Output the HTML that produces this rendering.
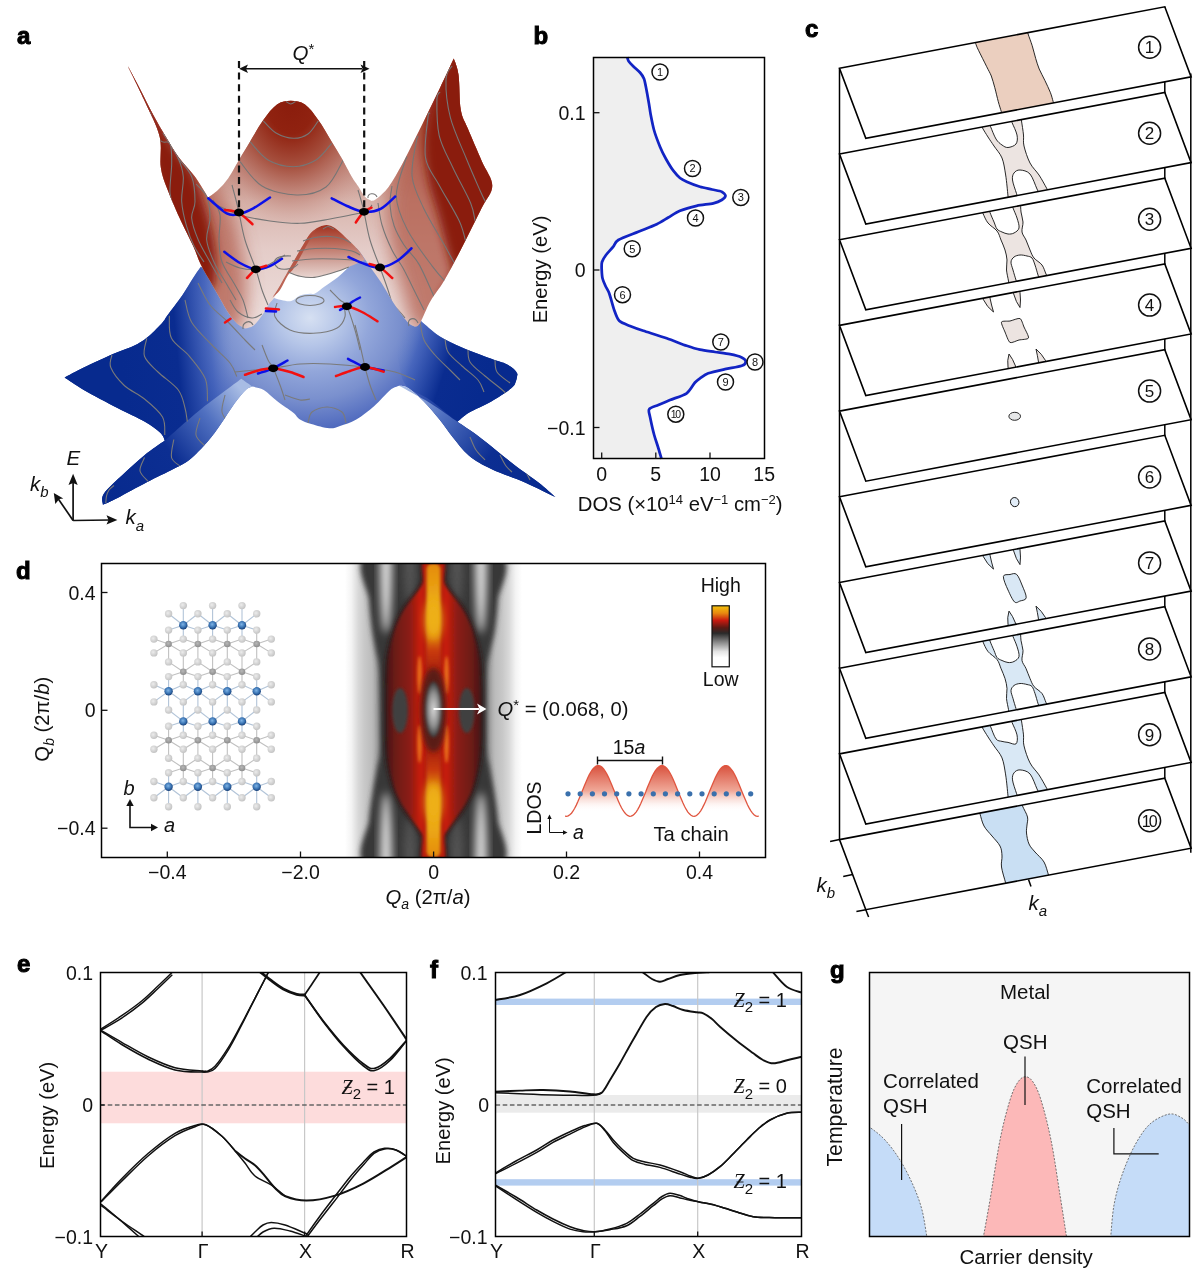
<!DOCTYPE html><html><head><meta charset="utf-8"><style>
html,body{margin:0;padding:0;background:#fff;width:1200px;height:1287px;overflow:hidden}
svg{display:block;will-change:transform}
text{font-family:"Liberation Sans",sans-serif}
</style></head><body>
<svg width="1200" height="1287" viewBox="0 0 1200 1287">
<defs>
<radialGradient id="bRad" gradientUnits="userSpaceOnUse" cx="310" cy="318" r="200" gradientTransform="translate(310 318) scale(1 0.9) translate(-310 -318)">
<stop offset="0" stop-color="#d6e0f2"/><stop offset="0.15" stop-color="#b6c6e8"/><stop offset="0.3" stop-color="#92a6da"/><stop offset="0.45" stop-color="#7a90ce"/><stop offset="0.6" stop-color="#546ec0"/><stop offset="0.75" stop-color="#2a4aa8"/><stop offset="0.9" stop-color="#0e2e92"/><stop offset="1" stop-color="#06268a"/>
</radialGradient>
<linearGradient id="bWingL" gradientUnits="userSpaceOnUse" x1="120" y1="345" x2="232" y2="335"><stop offset="0" stop-color="#072a8e"/><stop offset="0.5" stop-color="#0a2c90"/><stop offset="0.8" stop-color="#3a5cb8" stop-opacity="0.6"/><stop offset="1" stop-color="#6a88cc" stop-opacity="0"/></linearGradient>
<linearGradient id="bWingR" gradientUnits="userSpaceOnUse" x1="490" y1="370" x2="400" y2="340"><stop offset="0" stop-color="#072a8e"/><stop offset="0.45" stop-color="#0a2c90"/><stop offset="0.8" stop-color="#3a5cb8" stop-opacity="0.6"/><stop offset="1" stop-color="#6a88cc" stop-opacity="0"/></linearGradient>
<linearGradient id="bFL" gradientUnits="userSpaceOnUse" x1="110" y1="500" x2="245" y2="395"><stop offset="0" stop-color="#072a8e"/><stop offset="0.45" stop-color="#0c2e92"/><stop offset="0.75" stop-color="#5070c0"/><stop offset="1" stop-color="#a8bce4"/></linearGradient>
<linearGradient id="bFR" gradientUnits="userSpaceOnUse" x1="550" y1="495" x2="405" y2="390"><stop offset="0" stop-color="#072a8e"/><stop offset="0.4" stop-color="#0c2e92"/><stop offset="0.75" stop-color="#5070c0"/><stop offset="1" stop-color="#a8bce4"/></linearGradient>
</defs>
<defs><clipPath id="blueclip"><path d="M64.6,377.6 C67.8,375.9 75.7,371.4 83.8,367.5 C91.9,363.6 104.4,357.8 113.0,354.0 C121.6,350.2 129.5,348.0 135.5,345.0 C141.5,342.0 144.5,339.8 149.0,336.0 C153.5,332.2 159.4,325.9 162.5,322.5 C165.6,319.1 164.0,320.2 167.3,315.6 C170.6,311.0 178.2,301.3 182.5,295.0 C186.8,288.7 190.2,282.4 193.3,277.7 C196.4,273.0 199.6,268.6 200.9,266.8 L200.9,266.8 C204.9,269.8 216.8,279.5 225.0,285.0 C233.2,290.5 243.3,297.5 250.0,300.0 C256.7,302.5 261.2,300.4 265.0,300.0 C268.8,299.6 271.2,297.9 272.5,297.5 L272.5,297.5 C274.0,297.9 278.2,299.4 281.3,300.0 C284.4,300.6 288.2,301.8 291.3,301.0 C294.4,300.2 296.9,296.7 300.0,295.5 C303.1,294.3 307.5,294.1 310.0,293.8 C312.5,293.5 312.5,294.8 315.0,293.5 C317.5,292.2 321.2,289.0 325.0,286.3 C328.8,283.6 333.5,280.7 337.5,277.5 C341.5,274.3 346.9,268.7 348.8,266.9 L348.8,266.9 C350.0,263.8 350.8,250.8 356.0,248.0 C361.2,245.2 371.0,243.0 380.0,250.0 C389.0,257.0 403.1,278.1 410.0,290.0 C416.9,301.9 419.6,316.3 421.5,321.6 L421.5,321.6 C424.5,324.1 432.8,332.0 439.5,336.3 C446.2,340.6 453.4,343.8 462.0,347.5 C470.6,351.2 484.1,356.1 491.3,358.8 C498.5,361.5 501.2,361.8 505.0,363.5 C508.8,365.2 511.7,367.1 513.8,368.9 C515.9,370.6 516.9,373.1 517.5,374.0 L517.5,374.0 C517.2,375.2 517.0,378.7 516.0,381.0 C515.0,383.3 515.6,384.6 511.5,388.0 C507.4,391.4 498.4,397.4 491.3,401.5 C484.2,405.6 474.4,409.4 468.8,412.8 C463.2,416.2 459.4,420.3 457.5,421.8 L457.5,421.8 C461.2,424.4 470.6,430.4 480.0,437.5 C489.4,444.6 504.0,457.0 513.8,464.5 C523.5,472.0 531.6,477.1 538.5,482.5 C545.4,487.9 552.6,494.7 555.4,497.1 L555.4,497.1 C550.3,494.7 535.7,487.2 525.0,482.5 C514.3,477.8 500.7,473.5 491.3,469.0 C481.9,464.5 475.2,460.8 468.8,455.5 C462.4,450.2 457.9,443.5 453.0,437.5 C448.1,431.5 444.4,425.5 439.5,419.5 C434.6,413.5 429.1,406.8 423.8,401.5 C418.6,396.2 412.1,390.6 408.0,388.0 C403.9,385.4 400.5,386.2 399.0,385.8 L399.0,385.8 C397.5,386.6 394.1,386.9 390.0,390.3 C385.9,393.7 379.9,401.1 374.3,406.0 C368.7,410.9 362.0,416.2 356.3,419.5 C350.6,422.8 344.5,424.5 340.0,426.0 C335.5,427.5 334.1,428.6 329.3,428.3 C324.5,428.0 316.2,425.5 311.3,424.0 C306.4,422.5 303.1,421.4 300.0,419.5 C296.9,417.6 296.8,415.5 293.0,412.5 C289.2,409.5 282.2,405.1 277.3,401.3 C272.4,397.6 267.9,392.4 263.8,390.0 C259.7,387.6 254.4,387.2 252.5,386.6 L252.5,386.6 C251.4,387.2 248.8,387.2 245.8,390.0 C242.8,392.8 238.6,397.9 234.5,403.5 C230.4,409.1 225.5,417.4 221.0,423.8 C216.5,430.2 212.8,435.8 207.5,441.8 C202.2,447.8 195.1,455.3 189.5,459.8 C183.9,464.3 180.9,465.1 173.8,468.8 C166.7,472.6 156.2,477.4 146.8,482.3 C137.4,487.2 124.8,494.2 117.5,498.0 C110.2,501.8 105.3,503.7 102.9,504.8 L102.9,504.8 C103.1,502.9 100.4,498.8 104.0,493.5 C107.6,488.2 117.5,479.7 124.3,473.3 C131.1,466.9 137.8,460.8 144.5,455.3 C151.2,449.9 161.4,443.1 164.8,440.6 L164.8,440.6 C164.1,439.3 163.7,436.0 160.3,432.8 C156.9,429.6 151.6,425.6 144.5,421.5 C137.4,417.4 127.6,413.2 117.5,408.0 C107.4,402.8 92.6,395.1 83.8,390.0 C75.0,384.9 67.8,379.7 64.6,377.6Z"/></clipPath></defs>
<path d="M64.6,377.6 C67.8,375.9 75.7,371.4 83.8,367.5 C91.9,363.6 104.4,357.8 113.0,354.0 C121.6,350.2 129.5,348.0 135.5,345.0 C141.5,342.0 144.5,339.8 149.0,336.0 C153.5,332.2 159.4,325.9 162.5,322.5 C165.6,319.1 164.0,320.2 167.3,315.6 C170.6,311.0 178.2,301.3 182.5,295.0 C186.8,288.7 190.2,282.4 193.3,277.7 C196.4,273.0 199.6,268.6 200.9,266.8 L200.9,266.8 C204.9,269.8 216.8,279.5 225.0,285.0 C233.2,290.5 243.3,297.5 250.0,300.0 C256.7,302.5 261.2,300.4 265.0,300.0 C268.8,299.6 271.2,297.9 272.5,297.5 L272.5,297.5 C274.0,297.9 278.2,299.4 281.3,300.0 C284.4,300.6 288.2,301.8 291.3,301.0 C294.4,300.2 296.9,296.7 300.0,295.5 C303.1,294.3 307.5,294.1 310.0,293.8 C312.5,293.5 312.5,294.8 315.0,293.5 C317.5,292.2 321.2,289.0 325.0,286.3 C328.8,283.6 333.5,280.7 337.5,277.5 C341.5,274.3 346.9,268.7 348.8,266.9 L348.8,266.9 C350.0,263.8 350.8,250.8 356.0,248.0 C361.2,245.2 371.0,243.0 380.0,250.0 C389.0,257.0 403.1,278.1 410.0,290.0 C416.9,301.9 419.6,316.3 421.5,321.6 L421.5,321.6 C424.5,324.1 432.8,332.0 439.5,336.3 C446.2,340.6 453.4,343.8 462.0,347.5 C470.6,351.2 484.1,356.1 491.3,358.8 C498.5,361.5 501.2,361.8 505.0,363.5 C508.8,365.2 511.7,367.1 513.8,368.9 C515.9,370.6 516.9,373.1 517.5,374.0 L517.5,374.0 C517.2,375.2 517.0,378.7 516.0,381.0 C515.0,383.3 515.6,384.6 511.5,388.0 C507.4,391.4 498.4,397.4 491.3,401.5 C484.2,405.6 474.4,409.4 468.8,412.8 C463.2,416.2 459.4,420.3 457.5,421.8 L457.5,421.8 C461.2,424.4 470.6,430.4 480.0,437.5 C489.4,444.6 504.0,457.0 513.8,464.5 C523.5,472.0 531.6,477.1 538.5,482.5 C545.4,487.9 552.6,494.7 555.4,497.1 L555.4,497.1 C550.3,494.7 535.7,487.2 525.0,482.5 C514.3,477.8 500.7,473.5 491.3,469.0 C481.9,464.5 475.2,460.8 468.8,455.5 C462.4,450.2 457.9,443.5 453.0,437.5 C448.1,431.5 444.4,425.5 439.5,419.5 C434.6,413.5 429.1,406.8 423.8,401.5 C418.6,396.2 412.1,390.6 408.0,388.0 C403.9,385.4 400.5,386.2 399.0,385.8 L399.0,385.8 C397.5,386.6 394.1,386.9 390.0,390.3 C385.9,393.7 379.9,401.1 374.3,406.0 C368.7,410.9 362.0,416.2 356.3,419.5 C350.6,422.8 344.5,424.5 340.0,426.0 C335.5,427.5 334.1,428.6 329.3,428.3 C324.5,428.0 316.2,425.5 311.3,424.0 C306.4,422.5 303.1,421.4 300.0,419.5 C296.9,417.6 296.8,415.5 293.0,412.5 C289.2,409.5 282.2,405.1 277.3,401.3 C272.4,397.6 267.9,392.4 263.8,390.0 C259.7,387.6 254.4,387.2 252.5,386.6 L252.5,386.6 C251.4,387.2 248.8,387.2 245.8,390.0 C242.8,392.8 238.6,397.9 234.5,403.5 C230.4,409.1 225.5,417.4 221.0,423.8 C216.5,430.2 212.8,435.8 207.5,441.8 C202.2,447.8 195.1,455.3 189.5,459.8 C183.9,464.3 180.9,465.1 173.8,468.8 C166.7,472.6 156.2,477.4 146.8,482.3 C137.4,487.2 124.8,494.2 117.5,498.0 C110.2,501.8 105.3,503.7 102.9,504.8 L102.9,504.8 C103.1,502.9 100.4,498.8 104.0,493.5 C107.6,488.2 117.5,479.7 124.3,473.3 C131.1,466.9 137.8,460.8 144.5,455.3 C151.2,449.9 161.4,443.1 164.8,440.6 L164.8,440.6 C164.1,439.3 163.7,436.0 160.3,432.8 C156.9,429.6 151.6,425.6 144.5,421.5 C137.4,417.4 127.6,413.2 117.5,408.0 C107.4,402.8 92.6,395.1 83.8,390.0 C75.0,384.9 67.8,379.7 64.6,377.6Z" fill="url(#bRad)"/>
<path d="M64.6,377.6 C67.8,375.9 75.7,371.4 83.8,367.5 C91.9,363.6 104.4,357.8 113.0,354.0 C121.6,350.2 129.5,348.0 135.5,345.0 C141.5,342.0 144.5,339.8 149.0,336.0 C153.5,332.2 159.4,325.9 162.5,322.5 C165.6,319.1 164.0,320.2 167.3,315.6 C170.6,311.0 178.2,301.3 182.5,295.0 C186.8,288.7 190.2,282.4 193.3,277.7 C196.4,273.0 199.6,268.6 200.9,266.8 L200.9,266.8 C205.8,272.3 222.5,287.0 230.0,300.0 C237.5,313.0 244.1,331.9 246.0,345.0 C247.9,358.1 242.1,373.2 241.3,378.8 L241.3,378.8 C234.4,384.0 212.8,399.7 200.0,410.0 C187.2,420.3 170.7,435.5 164.8,440.6 L164.8,440.6 C164.1,439.3 163.7,436.0 160.3,432.8 C156.9,429.6 151.6,425.6 144.5,421.5 C137.4,417.4 127.6,413.2 117.5,408.0 C107.4,402.8 92.6,395.1 83.8,390.0 C75.0,384.9 67.8,379.7 64.6,377.6Z" fill="url(#bWingL)"/>
<path d="M348.8,266.9 C354.0,267.4 367.9,260.9 380.0,270.0 C392.1,279.1 414.6,313.0 421.5,321.6 L421.5,321.6 C424.5,324.1 432.8,332.0 439.5,336.3 C446.2,340.6 453.4,343.8 462.0,347.5 C470.6,351.2 484.1,356.1 491.3,358.8 C498.5,361.5 501.2,361.8 505.0,363.5 C508.8,365.2 511.7,367.1 513.8,368.9 C515.9,370.6 516.9,373.1 517.5,374.0 L517.5,374.0 C517.2,375.2 517.0,378.7 516.0,381.0 C515.0,383.3 515.6,384.6 511.5,388.0 C507.4,391.4 498.4,397.4 491.3,401.5 C484.2,405.6 474.4,409.4 468.8,412.8 C463.2,416.2 459.4,420.3 457.5,421.8 L457.5,421.8 C452.9,418.2 438.8,406.3 430.0,400.0 C421.2,393.7 410.8,392.3 405.0,384.0 C399.2,375.7 400.8,364.0 395.0,350.0 C389.2,336.0 374.2,308.3 370.0,300.0Z" fill="url(#bWingR)"/>
<path d="M241.3,378.8 C243.2,380.1 250.6,385.3 252.5,386.6 L252.5,386.6 C251.4,387.2 248.8,387.2 245.8,390.0 C242.8,392.8 238.6,397.9 234.5,403.5 C230.4,409.1 225.5,417.4 221.0,423.8 C216.5,430.2 212.8,435.8 207.5,441.8 C202.2,447.8 195.1,455.3 189.5,459.8 C183.9,464.3 180.9,465.1 173.8,468.8 C166.7,472.6 156.2,477.4 146.8,482.3 C137.4,487.2 124.8,494.2 117.5,498.0 C110.2,501.8 105.3,503.7 102.9,504.8 L102.9,504.8 C103.1,502.9 100.4,498.8 104.0,493.5 C107.6,488.2 117.5,479.7 124.3,473.3 C131.1,466.9 137.8,460.8 144.5,455.3 C151.2,449.9 161.4,443.1 164.8,440.6 L164.8,440.6 C170.7,435.5 187.2,420.3 200.0,410.0 C212.8,399.7 234.4,384.0 241.3,378.8Z" fill="url(#bFL)"/>
<path d="M399.0,385.8 C404.2,388.7 420.2,397.0 430.0,403.0 C439.8,409.0 452.9,418.7 457.5,421.8 L457.5,421.8 C461.2,424.4 470.6,430.4 480.0,437.5 C489.4,444.6 504.0,457.0 513.8,464.5 C523.5,472.0 531.6,477.1 538.5,482.5 C545.4,487.9 552.6,494.7 555.4,497.1 L555.4,497.1 C550.3,494.7 535.7,487.2 525.0,482.5 C514.3,477.8 500.7,473.5 491.3,469.0 C481.9,464.5 475.2,460.8 468.8,455.5 C462.4,450.2 457.9,443.5 453.0,437.5 C448.1,431.5 444.4,425.5 439.5,419.5 C434.6,413.5 429.1,406.8 423.8,401.5 C418.6,396.2 412.1,390.6 408.0,388.0 C403.9,385.4 400.5,386.2 399.0,385.8Z" fill="url(#bFR)"/>
<ellipse cx="310" cy="300.5" rx="14" ry="5" stroke="#7a7a7a" stroke-width="1.1" fill="none"/>
<g clip-path="url(#blueclip)"><path d="M277.0,303.0 C276.7,305.3 272.8,312.2 275.0,316.7 C277.2,321.2 283.6,327.2 290.0,330.0 C296.4,332.8 305.5,333.6 313.3,333.3 C321.1,333.0 331.4,331.1 336.7,328.3 C342.0,325.5 343.9,320.9 345.0,316.7 C346.1,312.5 343.6,305.5 343.3,303.3" stroke="#7a7a7a" stroke-width="1.1" fill="none"/><path d="M308.0,423.0 C308.7,421.2 308.8,414.7 312.0,412.0 C315.2,409.3 322.0,407.0 327.0,407.0 C332.0,407.0 338.8,409.3 342.0,412.0 C345.2,414.7 345.3,421.2 346.0,423.0" stroke="#7a7a7a" stroke-width="1.1" fill="none"/><path d="M111.9,355.1 C111.7,357.2 108.7,362.4 110.8,367.5 C112.9,372.6 118.7,380.2 124.3,385.5 C129.9,390.8 138.1,393.8 144.5,399.0 C150.9,404.2 159.1,411.0 162.5,417.0 C165.9,423.0 164.4,432.0 164.8,435.0" stroke="#7a7a7a" stroke-width="1.1" fill="none"/><path d="M146.8,338.3 C146.4,341.3 142.6,350.7 144.5,356.3 C146.4,361.9 152.4,366.4 158.0,372.0 C163.6,377.6 173.8,384.0 178.3,390.0 C182.8,396.0 183.5,402.8 185.0,408.0 C186.5,413.2 186.9,419.2 187.3,421.5" stroke="#7a7a7a" stroke-width="1.1" fill="none"/><path d="M169.3,315.8 C169.7,319.6 168.1,331.6 171.5,338.3 C174.9,345.1 183.9,349.6 189.5,356.3 C195.1,363.1 202.3,371.3 205.3,378.8 C208.3,386.3 207.1,397.6 207.5,401.3" stroke="#7a7a7a" stroke-width="1.1" fill="none"/><path d="M185.0,300.0 C186.1,303.8 187.3,315.0 191.8,322.5 C196.3,330.0 205.6,338.2 212.0,345.0 C218.4,351.8 225.9,357.8 230.0,363.0 C234.1,368.2 235.7,374.2 236.8,376.5" stroke="#7a7a7a" stroke-width="1.1" fill="none"/><path d="M198.0,283.0 C200.0,286.7 205.0,298.5 210.0,305.0 C215.0,311.5 222.2,316.2 228.0,322.0 C233.8,327.8 240.5,335.3 245.0,340.0 C249.5,344.7 253.3,348.3 255.0,350.0" stroke="#7a7a7a" stroke-width="1.1" fill="none"/><path d="M105.8,503.0 C105.9,501.8 106.0,498.2 106.5,496.0 C107.0,493.8 107.8,491.8 109.0,490.0 C110.2,488.2 113.2,486.2 114.0,485.5" stroke="#7a7a7a" stroke-width="1.1" fill="none"/><path d="M144.5,457.5 C143.8,459.8 139.2,466.9 140.0,471.0 C140.8,475.1 147.5,480.4 149.0,482.3" stroke="#7a7a7a" stroke-width="1.1" fill="none"/><path d="M173.8,439.5 C173.4,442.5 170.5,453.1 171.5,457.5 C172.5,461.9 178.6,464.6 180.0,466.0" stroke="#7a7a7a" stroke-width="1.1" fill="none"/><path d="M200.0,418.0 C199.3,420.8 195.2,430.3 196.0,435.0 C196.8,439.7 203.5,444.2 205.0,446.0" stroke="#7a7a7a" stroke-width="1.1" fill="none"/><path d="M225.0,395.0 C224.5,397.8 221.2,407.0 222.0,412.0 C222.8,417.0 228.7,422.8 230.0,425.0" stroke="#7a7a7a" stroke-width="1.1" fill="none"/><path d="M420.0,322.0 C420.7,325.0 421.5,334.5 424.0,340.0 C426.5,345.5 430.7,350.0 435.0,355.0 C439.3,360.0 445.8,365.8 450.0,370.0 C454.2,374.2 458.3,378.3 460.0,380.0" stroke="#7a7a7a" stroke-width="1.1" fill="none"/><path d="M445.0,338.0 C445.5,340.3 445.2,347.3 448.0,352.0 C450.8,356.7 457.0,361.3 462.0,366.0 C467.0,370.7 474.3,375.7 478.0,380.0 C481.7,384.3 483.0,390.0 484.0,392.0" stroke="#7a7a7a" stroke-width="1.1" fill="none"/><path d="M468.0,348.0 C468.3,350.3 467.2,357.3 470.0,362.0 C472.8,366.7 480.0,371.7 485.0,376.0 C490.0,380.3 496.2,384.8 500.0,388.0 C503.8,391.2 506.7,393.8 508.0,395.0" stroke="#7a7a7a" stroke-width="1.1" fill="none"/><path d="M495.0,359.0 C495.3,361.2 494.5,368.0 497.0,372.0 C499.5,376.0 507.8,381.2 510.0,383.0" stroke="#7a7a7a" stroke-width="1.1" fill="none"/><path d="M470.0,437.0 C471.0,439.2 473.5,446.2 476.0,450.0 C478.5,453.8 483.5,458.3 485.0,460.0" stroke="#7a7a7a" stroke-width="1.1" fill="none"/><path d="M500.0,455.0 C501.0,456.8 504.0,463.2 506.0,466.0 C508.0,468.8 511.0,471.0 512.0,472.0" stroke="#7a7a7a" stroke-width="1.1" fill="none"/><path d="M526.0,472.0 C526.7,473.3 529.3,478.7 530.0,480.0" stroke="#7a7a7a" stroke-width="1.1" fill="none"/><path d="M262.0,345.0 C263.0,347.5 266.1,356.1 268.0,360.0 C269.9,363.9 271.2,364.1 273.2,368.3 C275.2,372.5 278.0,379.7 280.0,385.0 C282.0,390.3 284.2,397.5 285.0,400.0" stroke="#7a7a7a" stroke-width="1.1" fill="none"/><path d="M355.0,325.0 C355.8,328.3 358.3,338.0 360.0,345.0 C361.7,352.0 363.3,360.3 365.0,367.0 C366.7,373.7 368.2,379.5 370.0,385.0 C371.8,390.5 375.0,397.5 376.0,400.0" stroke="#7a7a7a" stroke-width="1.1" fill="none"/><path d="M235.0,372.0 C238.3,371.7 248.6,370.6 255.0,370.0 C261.4,369.4 265.7,369.3 273.2,368.3 C280.7,367.3 290.5,364.7 300.0,364.0 C309.5,363.3 319.2,363.5 330.0,364.0 C340.8,364.5 354.2,365.7 365.0,367.0 C375.8,368.3 386.7,369.8 395.0,372.0 C403.3,374.2 411.7,378.7 415.0,380.0" stroke="#7a7a7a" stroke-width="1.1" fill="none"/><path d="M330.0,290.0 C331.7,291.7 337.2,297.3 340.0,300.0 C342.8,302.7 344.4,301.3 346.9,306.3 C349.4,311.3 352.8,322.7 355.0,330.0 C357.2,337.3 359.2,346.7 360.0,350.0" stroke="#7a7a7a" stroke-width="1.1" fill="none"/><path d="M285.0,395.0 C287.5,395.8 295.8,399.3 300.0,400.0 C304.2,400.7 308.3,399.2 310.0,399.0" stroke="#7a7a7a" stroke-width="1.1" fill="none"/></g>
<defs>
<linearGradient id="rBase" gradientUnits="userSpaceOnUse" x1="0" y1="60" x2="0" y2="330"><stop offset="0" stop-color="#8e2210"/><stop offset="0.2" stop-color="#a03c2a"/><stop offset="0.38" stop-color="#c08478"/><stop offset="0.52" stop-color="#d8b4ac"/><stop offset="0.7" stop-color="#e4ccc8"/><stop offset="1" stop-color="#eee0de"/></linearGradient>
<radialGradient id="rHump" gradientUnits="userSpaceOnUse" cx="291" cy="100" r="135" gradientTransform="translate(291 98) scale(0.72 1) translate(-291 -98)"><stop offset="0" stop-color="#8a1c0c"/><stop offset="0.25" stop-color="#902210"/><stop offset="0.5" stop-color="#a44c3a" stop-opacity="0.9"/><stop offset="0.75" stop-color="#bc7c70" stop-opacity="0.5"/><stop offset="1" stop-color="#d8b4ac" stop-opacity="0"/></radialGradient>
<linearGradient id="rWingL" gradientUnits="userSpaceOnUse" x1="168" y1="200" x2="236" y2="176"><stop offset="0" stop-color="#8a1c0c"/><stop offset="0.55" stop-color="#8e2010"/><stop offset="0.8" stop-color="#a84a38" stop-opacity="0.8"/><stop offset="1" stop-color="#c08478" stop-opacity="0.3"/></linearGradient>
<linearGradient id="rWingR" gradientUnits="userSpaceOnUse" x1="478" y1="215" x2="405" y2="200"><stop offset="0" stop-color="#8a1c0c"/><stop offset="0.4" stop-color="#8e2010"/><stop offset="0.75" stop-color="#b05a48" stop-opacity="0.85"/><stop offset="1" stop-color="#c89088" stop-opacity="0.2"/></linearGradient>
<linearGradient id="rFade" gradientUnits="userSpaceOnUse" x1="0" y1="215" x2="0" y2="330"><stop offset="0" stop-color="#e6d0cc" stop-opacity="0"/><stop offset="0.45" stop-color="#d8b4ac" stop-opacity="0.55"/><stop offset="1" stop-color="#eee2e0" stop-opacity="1"/></linearGradient>
<linearGradient id="rFH" gradientUnits="userSpaceOnUse" x1="0" y1="225" x2="0" y2="280"><stop offset="0" stop-color="#a0301e"/><stop offset="0.3" stop-color="#b86454"/><stop offset="0.7" stop-color="#d4aca4"/><stop offset="1" stop-color="#ecdcd8"/></linearGradient>
<clipPath id="redclip"><path d="M127.0,64.6 C130.0,70.8 139.6,89.8 145.0,101.8 C150.4,113.8 157.1,125.8 159.7,136.7 C162.3,147.6 159.5,158.4 160.8,167.2 C162.1,176.0 164.2,180.7 167.6,189.7 C171.0,198.7 176.8,211.8 181.1,221.2 C185.4,230.6 190.0,239.1 193.3,246.3 C196.6,253.6 198.0,258.8 200.9,264.7 C203.8,270.6 207.4,276.2 210.7,282.0 C213.9,287.8 217.5,294.2 220.4,299.3 C223.3,304.4 225.3,308.3 228.0,312.3 C230.7,316.3 233.8,320.5 236.7,323.2 C239.6,325.9 243.9,327.7 245.3,328.6 L245.3,328.6 C246.8,328.1 251.1,327.7 254.0,325.3 C256.9,322.9 260.2,318.1 262.7,314.5 C265.2,310.9 267.2,306.6 269.2,303.7 C271.2,300.8 273.0,299.9 274.6,297.2 C276.2,294.5 276.7,291.7 278.8,287.5 C280.9,283.3 285.0,276.4 287.5,272.0 C290.0,267.6 291.3,265.3 293.8,261.0 C296.3,256.7 299.8,250.5 302.5,246.0 C305.2,241.5 307.4,237.1 310.0,234.0 C312.6,230.9 315.2,229.0 318.0,227.5 C320.8,226.0 323.9,224.9 326.7,225.0 C329.5,225.1 331.9,226.1 335.0,228.0 C338.1,229.9 341.1,233.0 345.0,236.7 C348.9,240.4 354.1,245.0 358.3,250.0 C362.5,255.0 366.1,261.1 370.0,266.7 C373.9,272.2 378.1,277.8 381.7,283.3 C385.3,288.9 388.1,294.4 391.7,300.0 C395.3,305.6 400.3,312.7 403.3,316.7 C406.3,320.7 407.7,322.3 409.6,324.0 C411.6,325.7 414.1,326.2 415.0,326.7 L415.0,326.7 C415.8,326.1 417.4,327.3 420.0,323.0 C422.6,318.7 426.4,308.2 430.5,301.1 C434.6,294.0 439.1,289.4 444.5,280.1 C449.9,270.8 457.0,257.1 463.2,245.1 C469.4,233.0 476.9,217.7 481.8,207.8 C486.7,197.9 492.3,193.5 492.3,185.7 C492.3,177.9 485.9,170.7 481.8,161.2 C477.7,151.7 471.3,137.1 467.8,128.6 C464.3,120.1 462.4,118.9 460.8,110.0 C459.2,101.1 459.7,83.6 458.5,75.0 C457.3,66.4 454.6,61.3 453.8,58.6 L453.8,58.6 C451.5,63.5 444.6,78.3 440.0,88.0 C435.4,97.7 430.2,108.1 425.9,116.9 C421.6,125.7 417.9,133.2 414.0,141.0 C410.1,148.8 406.8,155.8 402.6,163.5 C398.4,171.2 392.9,181.1 388.6,186.9 C384.3,192.7 379.7,196.2 376.9,198.5 C374.1,200.8 372.8,200.6 372.0,201.0 L372.0,201.0 C370.8,200.3 367.3,199.2 365.0,196.7 C362.7,194.2 360.2,189.3 358.0,186.0 C355.8,182.7 354.4,181.3 351.7,176.7 C349.0,172.1 345.0,164.1 341.7,158.3 C338.4,152.5 335.6,148.1 331.7,141.7 C327.8,135.3 322.8,126.2 318.3,120.0 C313.9,113.8 309.6,107.7 305.0,104.5 C300.4,101.3 295.5,100.8 290.8,100.8 C286.1,100.8 281.6,101.3 277.0,104.5 C272.4,107.7 267.8,113.8 263.3,120.0 C258.8,126.2 253.9,135.3 250.0,141.7 C246.1,148.1 243.6,152.2 240.0,158.3 C236.4,164.4 232.0,173.0 228.3,178.3 C224.6,183.6 221.3,186.8 218.0,190.0 C214.7,193.2 209.8,196.3 208.2,197.6 L208.2,197.6 C206.0,194.1 200.0,183.5 195.0,176.7 C190.0,169.9 183.1,163.3 178.3,156.7 C173.5,150.1 170.2,143.9 166.0,137.0 C161.8,130.1 157.6,123.0 153.3,115.0 C149.0,107.0 144.4,97.4 140.0,89.0 C135.6,80.6 129.2,68.7 127.0,64.6Z"/></clipPath>
</defs>
<path d="M127.0,64.6 C130.0,70.8 139.6,89.8 145.0,101.8 C150.4,113.8 157.1,125.8 159.7,136.7 C162.3,147.6 159.5,158.4 160.8,167.2 C162.1,176.0 164.2,180.7 167.6,189.7 C171.0,198.7 176.8,211.8 181.1,221.2 C185.4,230.6 190.0,239.1 193.3,246.3 C196.6,253.6 198.0,258.8 200.9,264.7 C203.8,270.6 207.4,276.2 210.7,282.0 C213.9,287.8 217.5,294.2 220.4,299.3 C223.3,304.4 225.3,308.3 228.0,312.3 C230.7,316.3 233.8,320.5 236.7,323.2 C239.6,325.9 243.9,327.7 245.3,328.6 L245.3,328.6 C246.8,328.1 251.1,327.7 254.0,325.3 C256.9,322.9 260.2,318.1 262.7,314.5 C265.2,310.9 267.2,306.6 269.2,303.7 C271.2,300.8 273.0,299.9 274.6,297.2 C276.2,294.5 276.7,291.7 278.8,287.5 C280.9,283.3 285.0,276.4 287.5,272.0 C290.0,267.6 291.3,265.3 293.8,261.0 C296.3,256.7 299.8,250.5 302.5,246.0 C305.2,241.5 307.4,237.1 310.0,234.0 C312.6,230.9 315.2,229.0 318.0,227.5 C320.8,226.0 323.9,224.9 326.7,225.0 C329.5,225.1 331.9,226.1 335.0,228.0 C338.1,229.9 341.1,233.0 345.0,236.7 C348.9,240.4 354.1,245.0 358.3,250.0 C362.5,255.0 366.1,261.1 370.0,266.7 C373.9,272.2 378.1,277.8 381.7,283.3 C385.3,288.9 388.1,294.4 391.7,300.0 C395.3,305.6 400.3,312.7 403.3,316.7 C406.3,320.7 407.7,322.3 409.6,324.0 C411.6,325.7 414.1,326.2 415.0,326.7 L415.0,326.7 C415.8,326.1 417.4,327.3 420.0,323.0 C422.6,318.7 426.4,308.2 430.5,301.1 C434.6,294.0 439.1,289.4 444.5,280.1 C449.9,270.8 457.0,257.1 463.2,245.1 C469.4,233.0 476.9,217.7 481.8,207.8 C486.7,197.9 492.3,193.5 492.3,185.7 C492.3,177.9 485.9,170.7 481.8,161.2 C477.7,151.7 471.3,137.1 467.8,128.6 C464.3,120.1 462.4,118.9 460.8,110.0 C459.2,101.1 459.7,83.6 458.5,75.0 C457.3,66.4 454.6,61.3 453.8,58.6 L453.8,58.6 C451.5,63.5 444.6,78.3 440.0,88.0 C435.4,97.7 430.2,108.1 425.9,116.9 C421.6,125.7 417.9,133.2 414.0,141.0 C410.1,148.8 406.8,155.8 402.6,163.5 C398.4,171.2 392.9,181.1 388.6,186.9 C384.3,192.7 379.7,196.2 376.9,198.5 C374.1,200.8 372.8,200.6 372.0,201.0 L372.0,201.0 C370.8,200.3 367.3,199.2 365.0,196.7 C362.7,194.2 360.2,189.3 358.0,186.0 C355.8,182.7 354.4,181.3 351.7,176.7 C349.0,172.1 345.0,164.1 341.7,158.3 C338.4,152.5 335.6,148.1 331.7,141.7 C327.8,135.3 322.8,126.2 318.3,120.0 C313.9,113.8 309.6,107.7 305.0,104.5 C300.4,101.3 295.5,100.8 290.8,100.8 C286.1,100.8 281.6,101.3 277.0,104.5 C272.4,107.7 267.8,113.8 263.3,120.0 C258.8,126.2 253.9,135.3 250.0,141.7 C246.1,148.1 243.6,152.2 240.0,158.3 C236.4,164.4 232.0,173.0 228.3,178.3 C224.6,183.6 221.3,186.8 218.0,190.0 C214.7,193.2 209.8,196.3 208.2,197.6 L208.2,197.6 C206.0,194.1 200.0,183.5 195.0,176.7 C190.0,169.9 183.1,163.3 178.3,156.7 C173.5,150.1 170.2,143.9 166.0,137.0 C161.8,130.1 157.6,123.0 153.3,115.0 C149.0,107.0 144.4,97.4 140.0,89.0 C135.6,80.6 129.2,68.7 127.0,64.6Z" fill="url(#rBase)"/>
<path d="M372.0,201.0 C370.8,200.3 367.3,199.2 365.0,196.7 C362.7,194.2 360.2,189.3 358.0,186.0 C355.8,182.7 354.4,181.3 351.7,176.7 C349.0,172.1 345.0,164.1 341.7,158.3 C338.4,152.5 335.6,148.1 331.7,141.7 C327.8,135.3 322.8,126.2 318.3,120.0 C313.9,113.8 309.6,107.7 305.0,104.5 C300.4,101.3 295.5,100.8 290.8,100.8 C286.1,100.8 281.6,101.3 277.0,104.5 C272.4,107.7 267.8,113.8 263.3,120.0 C258.8,126.2 253.9,135.3 250.0,141.7 C246.1,148.1 243.6,152.2 240.0,158.3 C236.4,164.4 232.0,173.0 228.3,178.3 C224.6,183.6 221.3,186.8 218.0,190.0 C214.7,193.2 209.8,196.3 208.2,197.6 L208.2,197.6 C211.8,200.2 216.4,208.9 230.0,213.0 C243.6,217.1 270.0,221.8 290.0,222.0 C310.0,222.2 336.0,217.7 350.0,214.0 C364.0,210.3 369.8,202.2 373.8,199.9Z" fill="url(#rHump)"/>
<defs><filter id="rbl" x="-30%" y="-30%" width="160%" height="160%"><feGaussianBlur stdDeviation="5"/></filter><filter id="rbl2" x="-30%" y="-30%" width="160%" height="160%"><feGaussianBlur stdDeviation="9"/></filter></defs>
<g clip-path="url(#redclip)">
<path d="M110.0,40.0 C113.3,41.7 120.0,36.7 130.0,50.0 C140.0,63.3 157.5,100.0 170.0,120.0 C182.5,140.0 194.7,154.2 205.0,170.0 C215.3,185.8 225.5,199.7 232.0,215.0 C238.5,230.3 241.7,248.7 244.0,262.0 C246.3,275.3 247.0,283.7 246.0,295.0 C245.0,306.3 245.7,324.2 238.0,330.0 C230.3,335.8 214.7,351.7 200.0,330.0 C185.3,308.3 163.3,238.3 150.0,200.0 C136.7,161.7 125.0,116.7 120.0,100.0Z" fill="#b05a48" opacity="0.75" filter="url(#rbl2)"/>
<path d="M470.0,40.0 C467.5,41.7 463.3,36.7 455.0,50.0 C446.7,63.3 430.5,98.3 420.0,120.0 C409.5,141.7 397.3,161.7 392.0,180.0 C386.7,198.3 386.3,211.7 388.0,230.0 C389.7,248.3 397.0,273.3 402.0,290.0 C407.0,306.7 406.7,323.3 418.0,330.0 C429.3,336.7 456.3,351.7 470.0,330.0 C483.7,308.3 496.7,238.3 500.0,200.0 C503.3,161.7 491.7,116.7 490.0,100.0Z" fill="#b05a48" opacity="0.75" filter="url(#rbl2)"/>
<path d="M110.0,40.0 C112.8,42.5 120.3,44.2 127.0,55.0 C133.7,65.8 142.5,90.0 150.0,105.0 C157.5,120.0 165.0,133.8 172.0,145.0 C179.0,156.2 186.8,162.8 192.0,172.0 C197.2,181.2 199.7,190.0 203.0,200.0 C206.3,210.0 209.8,221.7 212.0,232.0 C214.2,242.3 216.0,252.3 216.0,262.0 C216.0,271.7 215.5,287.0 212.0,290.0 C208.5,293.0 202.8,291.7 195.0,280.0 C187.2,268.3 172.5,241.7 165.0,220.0 C157.5,198.3 156.7,173.3 150.0,150.0 C143.3,126.7 129.2,91.7 125.0,80.0Z" fill="#8a1c0c" filter="url(#rbl)"/>
<path d="M470.0,40.0 C467.0,42.0 458.3,42.0 452.0,52.0 C445.7,62.0 436.7,85.3 432.0,100.0 C427.3,114.7 424.7,126.7 424.0,140.0 C423.3,153.3 425.7,167.5 428.0,180.0 C430.3,192.5 434.8,203.3 438.0,215.0 C441.2,226.7 444.7,240.0 447.0,250.0 C449.3,260.0 453.2,266.7 452.0,275.0 C450.8,283.3 437.0,295.8 440.0,300.0 C443.0,304.2 460.0,316.7 470.0,300.0 C480.0,283.3 495.8,230.0 500.0,200.0 C504.2,170.0 498.3,143.3 495.0,120.0 C491.7,96.7 482.5,70.0 480.0,60.0Z" fill="#8a1c0c" filter="url(#rbl)"/>
</g>
<path d="M274.6,297.2 C275.3,295.6 276.7,291.7 278.8,287.5 C280.9,283.3 285.0,276.4 287.5,272.0 C290.0,267.6 291.3,265.3 293.8,261.0 C296.3,256.7 299.8,250.5 302.5,246.0 C305.2,241.5 307.4,237.1 310.0,234.0 C312.6,230.9 315.2,229.0 318.0,227.5 C320.8,226.0 323.9,224.9 326.7,225.0 C329.5,225.1 331.9,226.1 335.0,228.0 C338.1,229.9 341.1,233.0 345.0,236.7 C348.9,240.4 355.0,246.1 358.3,250.0 C361.6,253.9 363.9,258.3 365.0,260.0 L365.0,260.0 C362.3,261.1 353.4,265.0 348.8,266.9 C344.2,268.8 341.5,269.9 337.5,271.3 C333.5,272.7 329.2,274.0 325.0,275.0 C320.8,276.0 316.7,277.3 312.5,277.5 C308.3,277.7 304.2,277.2 300.0,276.3 C295.8,275.4 289.6,272.6 287.5,271.9Z" fill="url(#rFH)"/>
<path d="M272.5,297.5 C273.6,295.8 276.3,291.8 278.8,287.5 C281.3,283.2 285.0,276.4 287.5,272.0 C290.0,267.6 291.3,265.3 293.8,261.0 C296.3,256.7 299.8,250.5 302.5,246.0 C305.2,241.5 307.4,237.1 310.0,234.0 C312.6,230.9 316.7,228.6 318.0,227.5 L318.0,227.5 C317.0,228.9 314.5,231.9 312.0,236.0 C309.5,240.1 306.0,246.7 303.0,252.0 C300.0,257.3 296.6,264.0 294.0,268.0 C291.4,272.0 289.8,272.3 287.5,276.0 C285.2,279.7 282.5,286.4 280.0,290.0 C277.5,293.6 273.8,296.2 272.5,297.5Z" fill="#b04a38" opacity="0.85"/>
<g clip-path="url(#redclip)"><path d="M286.0,101.5 C286.8,101.9 289.2,104.0 290.8,104.0 C292.4,104.0 294.7,101.9 295.5,101.5" stroke="#767676" stroke-width="1.1" fill="none"/><path d="M263.3,120.8 C265.4,122.8 271.0,130.1 276.0,133.0 C281.0,135.9 288.0,138.1 293.3,138.3 C298.6,138.5 303.8,136.9 308.0,134.0 C312.2,131.1 316.6,123.0 318.3,120.8" stroke="#767676" stroke-width="1.1" fill="none"/><path d="M250.0,141.7 C253.0,144.8 260.8,155.8 268.0,160.0 C275.2,164.2 285.3,166.7 293.3,166.7 C301.3,166.7 309.6,163.9 316.0,160.0 C322.4,156.1 329.1,146.1 331.7,143.3" stroke="#767676" stroke-width="1.1" fill="none"/><path d="M240.0,161.7 C243.7,165.8 252.6,180.4 262.0,186.0 C271.4,191.6 286.0,194.8 296.7,195.0 C307.4,195.2 318.2,192.8 326.0,187.0 C333.8,181.2 340.4,164.5 343.3,160.0" stroke="#767676" stroke-width="1.1" fill="none"/><path d="M212.0,203.0 C216.7,205.0 230.3,212.0 240.0,215.0 C249.7,218.0 260.0,219.6 270.0,221.0 C280.0,222.4 290.0,223.6 300.0,223.3 C310.0,223.0 319.3,220.9 330.0,219.0 C340.7,217.1 357.0,214.1 364.0,211.8 C371.0,209.5 370.7,206.1 372.0,205.0" stroke="#767676" stroke-width="1.1" fill="none"/><path d="M150.0,112.0 C151.7,116.7 156.7,134.8 160.0,140.0 C163.3,145.2 168.1,139.4 170.0,143.3 C171.9,147.2 171.7,155.0 171.7,163.3 C171.7,171.6 169.4,185.5 170.0,193.3 C170.6,201.1 173.3,204.7 175.0,210.0 C176.7,215.3 177.8,220.0 180.0,225.0 C182.2,230.0 186.7,237.5 188.0,240.0" stroke="#767676" stroke-width="1.1" fill="none"/><path d="M163.0,133.0 C165.5,137.2 174.6,150.7 178.0,158.0 C181.4,165.3 182.7,169.4 183.3,176.7 C183.9,184.0 181.1,193.4 181.7,201.7 C182.3,210.0 184.6,219.3 186.7,226.7 C188.8,234.1 191.1,240.1 194.0,246.0 C196.9,251.9 202.3,259.3 204.0,262.0" stroke="#767676" stroke-width="1.1" fill="none"/><path d="M178.0,158.0 C180.3,161.1 188.9,169.4 191.7,176.7 C194.5,184.0 195.0,194.8 195.0,201.7 C195.0,208.6 191.1,211.9 191.7,218.3 C192.2,224.7 195.2,232.7 198.3,240.0 C201.4,247.3 206.1,254.8 210.0,262.0 C213.9,269.2 220.0,279.5 222.0,283.0" stroke="#767676" stroke-width="1.1" fill="none"/><path d="M196.0,184.0 C197.8,186.1 204.4,191.0 206.7,196.7 C209.0,202.4 210.0,211.1 210.0,218.3 C210.0,225.5 206.0,232.7 206.7,240.0 C207.4,247.3 210.8,254.8 214.0,262.0 C217.2,269.2 222.3,276.7 226.0,283.0 C229.7,289.3 234.3,297.2 236.0,300.0" stroke="#767676" stroke-width="1.1" fill="none"/><path d="M213.0,200.0 C214.2,202.5 219.0,208.3 220.0,215.0 C221.0,221.7 218.7,232.2 219.0,240.0 C219.3,247.8 219.3,254.5 222.0,262.0 C224.7,269.5 231.5,278.7 235.0,285.0 C238.5,291.3 240.8,294.5 243.0,300.0 C245.2,305.5 247.2,315.0 248.0,318.0" stroke="#767676" stroke-width="1.1" fill="none"/><path d="M452.0,66.0 C451.0,68.2 446.3,70.7 446.0,79.3 C445.7,87.9 447.0,104.4 450.4,117.6 C453.8,130.8 461.3,146.2 466.2,158.2 C471.1,170.2 476.4,182.2 479.7,189.7 C483.0,197.2 484.9,200.8 486.0,203.0" stroke="#767676" stroke-width="1.1" fill="none"/><path d="M440.0,92.0 C439.5,93.3 437.0,92.3 436.9,99.6 C436.8,106.9 436.6,124.3 439.2,135.6 C441.8,146.9 447.4,155.9 452.7,167.2 C457.9,178.5 466.9,194.2 470.7,203.2 C474.4,212.2 474.4,218.3 475.2,221.3" stroke="#767676" stroke-width="1.1" fill="none"/><path d="M430.0,113.0 C429.6,113.8 428.6,110.1 427.9,117.6 C427.2,125.1 423.7,146.9 425.6,158.2 C427.5,169.5 433.6,174.7 439.2,185.2 C444.8,195.7 454.9,211.5 459.4,221.3 C463.9,231.1 465.1,240.1 466.2,243.8" stroke="#767676" stroke-width="1.1" fill="none"/><path d="M418.0,137.0 C417.8,137.5 417.6,133.6 416.6,140.1 C415.6,146.6 411.0,164.9 412.1,176.2 C413.2,187.5 418.1,196.4 423.4,207.7 C428.7,219.0 438.4,234.4 443.7,243.8 C448.9,253.2 453.0,260.7 454.9,264.1" stroke="#767676" stroke-width="1.1" fill="none"/><path d="M407.0,158.0 C406.7,158.4 407.2,154.0 405.4,160.4 C403.6,166.8 395.9,184.8 396.3,196.5 C396.7,208.2 401.6,218.7 407.6,230.3 C413.6,241.9 426.0,257.7 432.4,266.3 C438.8,274.9 443.6,279.5 445.9,282.1" stroke="#767676" stroke-width="1.1" fill="none"/><path d="M392.0,186.0 C391.7,189.2 389.6,198.4 390.0,205.0 C390.4,211.6 391.8,219.1 394.1,225.8 C396.4,232.5 399.9,238.6 404.0,245.0 C408.1,251.4 413.8,255.3 418.9,264.1 C424.0,272.9 432.0,292.3 434.6,297.9" stroke="#767676" stroke-width="1.1" fill="none"/><path d="M378.0,203.0 C378.7,206.7 379.7,217.2 382.0,225.0 C384.3,232.8 388.5,242.8 392.0,250.0 C395.5,257.2 399.3,261.3 403.0,268.0 C406.7,274.7 410.5,283.0 414.0,290.0 C417.5,297.0 422.3,306.7 424.0,310.0" stroke="#767676" stroke-width="1.1" fill="none"/><path d="M232.0,185.0 C232.7,187.5 234.8,195.4 236.0,200.0 C237.2,204.6 237.5,205.8 239.0,212.5 C240.5,219.2 242.2,230.5 245.0,240.0 C247.8,249.5 253.0,261.0 255.8,269.3 C258.6,277.6 260.0,284.1 262.0,290.0 C264.0,295.9 267.0,302.5 268.0,305.0" stroke="#767676" stroke-width="1.1" fill="none"/><path d="M358.0,190.0 C358.5,191.7 360.0,196.4 361.0,200.0 C362.0,203.6 362.5,205.1 364.0,211.8 C365.5,218.5 367.3,230.7 370.0,240.0 C372.7,249.3 377.0,259.2 380.0,267.5 C383.0,275.8 385.7,282.9 388.0,290.0 C390.3,297.1 393.0,306.7 394.0,310.0" stroke="#767676" stroke-width="1.1" fill="none"/><path d="M226.0,262.0 C228.3,263.0 235.0,266.8 240.0,268.0 C245.0,269.2 250.8,270.0 255.8,269.3 C260.8,268.6 265.1,266.4 270.0,264.0 C274.9,261.6 282.5,256.5 285.0,255.0" stroke="#767676" stroke-width="1.1" fill="none"/><path d="M348.5,257.0 C351.2,258.3 359.8,263.2 365.0,265.0 C370.2,266.8 375.0,268.0 380.0,267.5 C385.0,267.0 390.0,264.6 395.0,262.0 C400.0,259.4 407.5,253.7 410.0,252.0" stroke="#767676" stroke-width="1.1" fill="none"/><path d="M230.0,300.0 C231.3,302.0 234.3,309.0 238.0,312.0 C241.7,315.0 248.0,317.7 252.0,318.0 C256.0,318.3 260.3,314.7 262.0,314.0" stroke="#767676" stroke-width="1.1" fill="none"/><path d="M360.0,280.0 C362.5,282.0 369.5,287.8 375.0,292.0 C380.5,296.2 388.0,300.7 393.0,305.0 C398.0,309.3 403.0,315.8 405.0,318.0" stroke="#767676" stroke-width="1.1" fill="none"/></g>
<path d="M323.0,229.0 C323.8,228.6 326.2,226.5 328.0,226.5 C329.8,226.5 333.0,228.6 334.0,229.0" stroke="#767676" stroke-width="1.1" fill="none"/><path d="M303.0,241.0 C305.0,240.4 310.5,238.2 315.0,237.5 C319.5,236.8 325.3,236.2 330.0,236.5 C334.7,236.8 339.5,237.9 343.0,239.0 C346.5,240.1 349.7,242.3 351.0,243.0" stroke="#767676" stroke-width="1.1" fill="none"/><path d="M297.0,251.0 C300.0,250.6 308.7,248.9 315.0,248.5 C321.3,248.1 328.8,248.1 335.0,248.5 C341.2,248.9 347.8,249.9 352.0,251.0 C356.2,252.1 358.7,254.3 360.0,255.0" stroke="#767676" stroke-width="1.1" fill="none"/><path d="M292.0,261.0 C295.3,260.7 304.8,259.3 312.0,259.0 C319.2,258.7 328.3,258.8 335.0,259.0 C341.7,259.2 347.5,259.5 352.0,260.0 C356.5,260.5 360.3,261.7 362.0,262.0" stroke="#767676" stroke-width="1.1" fill="none"/><path d="M288.0,272.0 C290.0,272.7 295.9,275.4 300.0,276.3 C304.1,277.2 308.3,277.7 312.5,277.5 C316.7,277.3 320.8,276.0 325.0,275.0 C329.2,274.0 333.5,272.7 337.5,271.3 C341.5,269.9 346.9,267.6 348.8,266.9" stroke="#767676" stroke-width="1.1" fill="none"/>
<path d="M243,329 C242,322 250,319 253,325" stroke="#767676" stroke-width="1.1" fill="none"/>
<path d="M409,326 C406,318 415,316 418,323" stroke="#767676" stroke-width="1.1" fill="none"/>
<path d="M368,198 C367,193 375,192 377,197" stroke="#767676" stroke-width="1.1" fill="none"/>
<path d="M291,256 C275,255 270,262 278,268 C285,271 295,268 298,264" stroke="#767676" stroke-width="1.1" fill="none"/>
<path d="M208.3,198.3 C211.4,200.8 221.7,210.7 226.7,213.3 C231.7,216.0 233.9,215.0 238.3,214.2 C242.7,213.4 248.0,211.1 253.3,208.3 C258.6,205.5 267.2,199.3 270.0,197.5" stroke="#0c10e8" stroke-width="2.5" fill="none" stroke-linecap="round"/>
<path d="M225.0,210.0 C227.3,210.5 234.4,210.6 239.0,213.0 C243.6,215.4 250.2,222.3 252.5,224.2" stroke="#f21010" stroke-width="2.5" fill="none" stroke-linecap="round"/>
<path d="M331.7,198.3 C334.2,199.6 341.7,203.8 347.0,206.0 C352.3,208.2 358.1,211.3 363.7,211.8 C369.3,212.3 375.4,211.5 380.6,208.9 C385.9,206.3 392.8,198.6 395.2,196.5" stroke="#0c10e8" stroke-width="2.5" fill="none" stroke-linecap="round"/>
<path d="M355.8,222.4 C357.1,220.6 361.1,214.2 363.7,211.8 C366.3,209.4 370.2,208.4 371.5,207.7" stroke="#f21010" stroke-width="2.5" fill="none" stroke-linecap="round"/>
<path d="M224.3,251.8 C226.9,253.7 234.8,260.1 240.0,263.0 C245.2,265.9 250.8,268.8 255.8,269.3 C260.8,269.8 265.6,267.8 270.0,266.0 C274.4,264.2 280.0,260.0 282.0,258.8" stroke="#0c10e8" stroke-width="2.5" fill="none" stroke-linecap="round"/>
<path d="M247.0,278.0 C248.5,276.6 252.6,271.3 255.8,269.3 C259.0,267.3 264.6,266.4 266.3,265.8" stroke="#f21010" stroke-width="2.5" fill="none" stroke-linecap="round"/>
<path d="M348.5,257.0 C351.2,258.2 359.8,262.2 365.0,264.0 C370.2,265.8 374.7,268.0 380.0,267.5 C385.3,267.0 391.8,264.2 397.0,261.0 C402.2,257.8 409.1,250.4 411.5,248.3" stroke="#0c10e8" stroke-width="2.5" fill="none" stroke-linecap="round"/>
<path d="M369.5,264.0 C371.2,264.6 376.2,265.2 380.0,267.5 C383.8,269.8 390.2,276.2 392.3,278.0" stroke="#f21010" stroke-width="2.5" fill="none" stroke-linecap="round"/>
<path d="M340.0,310.0 C341.1,309.4 344.9,307.6 346.9,306.3 C348.9,305.0 349.8,303.5 352.0,302.0 C354.2,300.5 358.7,298.2 360.0,297.5" stroke="#0c10e8" stroke-width="2.5" fill="none" stroke-linecap="round"/>
<path d="M335.0,306.9 C337.0,306.8 342.4,305.4 346.9,306.3 C351.4,307.2 356.9,309.5 362.0,312.0 C367.1,314.5 374.9,319.8 377.5,321.3" stroke="#f21010" stroke-width="2.5" fill="none" stroke-linecap="round"/>
<path d="M258.0,373.5 C260.5,372.6 268.3,370.5 273.2,368.3 C278.1,366.1 285.1,361.8 287.5,360.5" stroke="#0c10e8" stroke-width="2.5" fill="none" stroke-linecap="round"/>
<path d="M245.0,374.8 C247.5,374.0 255.3,371.1 260.0,370.0 C264.7,368.9 268.2,368.0 273.2,368.3 C278.2,368.6 284.9,370.6 290.0,372.0 C295.1,373.4 301.2,376.2 303.5,377.0" stroke="#f21010" stroke-width="2.5" fill="none" stroke-linecap="round"/>
<path d="M348.0,358.8 C349.7,359.7 355.2,362.6 358.0,364.0 C360.8,365.4 360.7,365.9 365.0,367.0 C369.3,368.1 380.6,369.9 383.7,370.5" stroke="#0c10e8" stroke-width="2.5" fill="none" stroke-linecap="round"/>
<path d="M336.0,376.0 C338.3,375.2 345.2,372.5 350.0,371.0 C354.8,369.5 359.4,366.9 365.0,367.0 C370.6,367.1 380.6,371.0 383.7,371.8" stroke="#f21010" stroke-width="2.5" fill="none" stroke-linecap="round"/>
<ellipse cx="239" cy="212.5" rx="5" ry="3.9" fill="#000"/>
<ellipse cx="364" cy="211.8" rx="5" ry="3.9" fill="#000"/>
<ellipse cx="255.8" cy="269.3" rx="5" ry="3.9" fill="#000"/>
<ellipse cx="380" cy="267.5" rx="5" ry="3.9" fill="#000"/>
<ellipse cx="346.9" cy="306.3" rx="5" ry="3.9" fill="#000"/>
<ellipse cx="273.2" cy="368.3" rx="5" ry="3.9" fill="#000"/>
<ellipse cx="365" cy="367" rx="5" ry="3.9" fill="#000"/>
<path d="M265.9,308.5 L279,309.5" stroke="#f21010" stroke-width="2.5" fill="none" stroke-linecap="round"/><path d="M265.9,311 L276,311.5" stroke="#0c10e8" stroke-width="2.5" fill="none" stroke-linecap="round"/>
<path d="M225,322.5 L230.5,318.8" stroke="#f21010" stroke-width="2.5" fill="none" stroke-linecap="round"/>
<line x1="239" y1="61" x2="239" y2="212" stroke="#111" stroke-width="2.2" stroke-dasharray="7,4.6"/>
<line x1="364.2" y1="61" x2="364.2" y2="210" stroke="#111" stroke-width="2.2" stroke-dasharray="7,4.6"/>
<line x1="242" y1="68.8" x2="362" y2="68.8" stroke="#111" stroke-width="1.6"/>
<path d="M239,68.8 L248,64.5 L246,68.8 L248,73.1Z" fill="#111"/>
<path d="M369.5,68.8 L360.5,64.5 L362.5,68.8 L360.5,73.1Z" fill="#111"/>
<text x="292.5" y="59.5" font-size="20.5" font-style="italic" fill="#111">Q<tspan dy="-6" font-size="15" font-style="normal">*</tspan></text>
<path d="M73.1,520.5 L73.1,482" fill="none" stroke="#111" stroke-width="1.7"/>
<path d="M68.5,485 L73.1,473.8 L77.7,485 L73.1,483Z" fill="#111"/>
<path d="M73.1,520.5 L110,520" fill="none" stroke="#111" stroke-width="1.7"/>
<path d="M106.5,515.3 L117.4,519.9 L106.5,524.5 L108.5,519.9Z" fill="#111"/>
<path d="M73.1,520.5 L58,498.5" fill="none" stroke="#111" stroke-width="1.7"/>
<path d="M55.3,503.9 L53.8,493.1 L63.3,498.5 L59.3,499Z" fill="#111"/>
<text x="66.5" y="464.7" font-size="20.5" font-style="italic" fill="#111">E</text>
<text x="30" y="490.8" font-size="20.5" font-style="italic" fill="#111">k<tspan dy="6.5" font-size="15">b</tspan></text>
<text x="125.5" y="524" font-size="20.5" font-style="italic" fill="#111">k<tspan dy="6.5" font-size="15">a</tspan></text>
<text x="17" y="44" font-size="24" font-weight="bold" fill="#000" stroke="#000" stroke-width="1.0">a</text>
<defs><clipPath id="clipd"><rect x="101.5" y="563.5" width="664.0" height="294.0"/></clipPath></defs>
<g clip-path="url(#clipd)">
<defs>
<filter id="bl1" x="-50%" y="-50%" width="200%" height="200%"><feGaussianBlur stdDeviation="1.5"/></filter>
<filter id="bl2" x="-50%" y="-50%" width="200%" height="200%"><feGaussianBlur stdDeviation="2.5"/></filter>
<filter id="bl3" x="-50%" y="-50%" width="200%" height="200%"><feGaussianBlur stdDeviation="4"/></filter>
<linearGradient id="hgray" x1="345" y1="0" x2="522" y2="0" gradientUnits="userSpaceOnUse">
<stop offset="0" stop-color="#fff"/><stop offset="0.035" stop-color="#f4f4f4"/><stop offset="0.075" stop-color="#d8d8d8"/><stop offset="0.11" stop-color="#c8c8c8"/><stop offset="0.15" stop-color="#bcbcbc"/><stop offset="0.22" stop-color="#888"/>
<stop offset="0.78" stop-color="#888"/><stop offset="0.85" stop-color="#bcbcbc"/><stop offset="0.89" stop-color="#c8c8c8"/><stop offset="0.925" stop-color="#d8d8d8"/><stop offset="0.965" stop-color="#f4f4f4"/><stop offset="1" stop-color="#fff"/>
</linearGradient>
<linearGradient id="hred" x1="385" y1="0" x2="482" y2="0" gradientUnits="userSpaceOnUse">
<stop offset="0" stop-color="#4a1814"/><stop offset="0.1" stop-color="#6e1a14"/><stop offset="0.25" stop-color="#8c1a12"/><stop offset="0.36" stop-color="#c81c10"/><stop offset="0.5" stop-color="#9a1a12"/><stop offset="0.64" stop-color="#c81c10"/><stop offset="0.75" stop-color="#8c1a12"/><stop offset="0.9" stop-color="#6e1a14"/><stop offset="1" stop-color="#4a1814"/>
</linearGradient>
<radialGradient id="cgray" cx="0.5" cy="0.5" r="0.5"><stop offset="0" stop-color="#d8d8d8"/><stop offset="0.6" stop-color="#909090"/><stop offset="1" stop-color="#353535"/></radialGradient>
<linearGradient id="ystrip" x1="0" y1="563" x2="0" y2="858" gradientUnits="userSpaceOnUse">
<stop offset="0" stop-color="#e48a10"/><stop offset="0.12" stop-color="#eba812"/><stop offset="0.2" stop-color="#eaa812"/><stop offset="0.3" stop-color="#c83a10"/><stop offset="0.38" stop-color="#a01a10"/><stop offset="0.62" stop-color="#a01a10"/><stop offset="0.7" stop-color="#c83a10"/><stop offset="0.8" stop-color="#eaa812"/><stop offset="0.9" stop-color="#eba812"/><stop offset="1" stop-color="#e48a10"/>
</linearGradient>
</defs>
<rect x="345" y="563.3" width="177" height="294.20000000000005" fill="url(#hgray)"/>
<path d="M368.0,555.3 C350.7,561.3 368.5,590.0 369.0,600.0 C369.5,610.0 371.1,623.1 372.0,630.0 C372.9,636.9 375.1,646.4 376.0,652.0 C376.9,657.6 378.5,659.2 379.0,672.0 C379.5,684.8 380.3,735.2 380.0,748.0 C379.7,760.8 377.9,762.4 377.0,768.0 C376.1,773.6 374.1,783.1 373.0,790.0 C371.9,796.9 369.7,809.9 369.0,820.0 C368.3,830.1 350.7,859.4 368.0,865.5 C385.3,871.6 481.7,871.6 499.0,865.5 C516.3,859.4 498.7,830.1 498.0,820.0 C497.3,809.9 495.1,796.9 494.0,790.0 C492.9,783.1 490.9,773.6 490.0,768.0 C489.1,762.4 487.4,760.8 487.0,748.0 C486.6,735.2 486.6,684.8 487.0,672.0 C487.4,659.2 488.9,657.6 490.0,652.0 C491.1,646.4 493.9,636.9 495.0,630.0 C496.1,623.1 497.5,610.0 498.0,600.0 C498.5,590.0 516.3,561.3 499.0,555.3 C481.7,549.3 385.3,549.3 368.0,555.3Z" fill="#383838" filter="url(#bl2)"/>
<ellipse cx="386" cy="558.3" rx="6" ry="75" fill="#dedede" filter="url(#bl3)"/>
<ellipse cx="386" cy="862.5" rx="6" ry="70" fill="#dadada" filter="url(#bl3)"/>
<ellipse cx="481" cy="558.3" rx="6" ry="75" fill="#dedede" filter="url(#bl3)"/>
<ellipse cx="481" cy="862.5" rx="6" ry="70" fill="#dadada" filter="url(#bl3)"/>
<ellipse cx="410" cy="563.3" rx="6" ry="40" fill="#555" filter="url(#bl3)"/>
<ellipse cx="410" cy="857.5" rx="6" ry="40" fill="#555" filter="url(#bl3)"/>
<ellipse cx="457" cy="563.3" rx="6" ry="40" fill="#555" filter="url(#bl3)"/>
<ellipse cx="457" cy="857.5" rx="6" ry="40" fill="#555" filter="url(#bl3)"/>
<path d="M423.0,558.3 C420.1,561.2 423.2,575.9 422.5,580.0 C421.8,584.1 419.7,586.5 418.0,589.0 C416.3,591.5 412.3,595.9 410.0,599.0 C407.7,602.1 403.1,608.3 401.0,612.0 C398.9,615.7 395.6,622.7 394.0,627.0 C392.4,631.3 390.1,639.6 389.0,644.0 C387.9,648.4 386.5,653.9 386.0,660.0 C385.5,666.1 385.1,680.0 385.0,690.0 C384.9,700.0 384.9,725.9 385.0,735.0 C385.1,744.1 385.5,752.7 386.0,758.0 C386.5,763.3 387.9,770.5 389.0,775.0 C390.1,779.5 392.4,787.9 394.0,792.0 C395.6,796.1 398.9,802.4 401.0,806.0 C403.1,809.6 407.7,815.8 410.0,819.0 C412.3,822.2 416.4,827.5 418.0,830.0 C419.6,832.5 421.4,833.7 422.0,838.0 C422.6,842.3 419.5,859.2 422.5,862.5 C425.5,865.8 441.5,865.8 444.5,862.5 C447.5,859.2 444.4,842.3 445.0,838.0 C445.6,833.7 447.4,832.5 449.0,830.0 C450.6,827.5 454.7,822.2 457.0,819.0 C459.3,815.8 463.9,809.6 466.0,806.0 C468.1,802.4 471.4,796.1 473.0,792.0 C474.6,787.9 476.9,779.5 478.0,775.0 C479.1,770.5 480.4,763.3 481.0,758.0 C481.6,752.7 482.3,744.1 482.5,735.0 C482.7,725.9 482.7,700.0 482.5,690.0 C482.3,680.0 481.6,666.1 481.0,660.0 C480.4,653.9 479.1,648.4 478.0,644.0 C476.9,639.6 474.6,631.3 473.0,627.0 C471.4,622.7 468.1,615.7 466.0,612.0 C463.9,608.3 459.3,602.1 457.0,599.0 C454.7,595.9 450.7,591.5 449.0,589.0 C447.3,586.5 445.2,584.1 444.5,580.0 C443.8,575.9 446.9,561.2 444.0,558.3 C441.1,555.4 425.9,555.4 423.0,558.3Z" fill="#2a1412" filter="url(#bl2)"/>
<g transform="translate(433.5 710) scale(0.965 0.99) translate(-433.5 -710)"><path d="M423.0,558.3 C420.1,561.2 423.2,575.9 422.5,580.0 C421.8,584.1 419.7,586.5 418.0,589.0 C416.3,591.5 412.3,595.9 410.0,599.0 C407.7,602.1 403.1,608.3 401.0,612.0 C398.9,615.7 395.6,622.7 394.0,627.0 C392.4,631.3 390.1,639.6 389.0,644.0 C387.9,648.4 386.5,653.9 386.0,660.0 C385.5,666.1 385.1,680.0 385.0,690.0 C384.9,700.0 384.9,725.9 385.0,735.0 C385.1,744.1 385.5,752.7 386.0,758.0 C386.5,763.3 387.9,770.5 389.0,775.0 C390.1,779.5 392.4,787.9 394.0,792.0 C395.6,796.1 398.9,802.4 401.0,806.0 C403.1,809.6 407.7,815.8 410.0,819.0 C412.3,822.2 416.4,827.5 418.0,830.0 C419.6,832.5 421.4,833.7 422.0,838.0 C422.6,842.3 419.5,859.2 422.5,862.5 C425.5,865.8 441.5,865.8 444.5,862.5 C447.5,859.2 444.4,842.3 445.0,838.0 C445.6,833.7 447.4,832.5 449.0,830.0 C450.6,827.5 454.7,822.2 457.0,819.0 C459.3,815.8 463.9,809.6 466.0,806.0 C468.1,802.4 471.4,796.1 473.0,792.0 C474.6,787.9 476.9,779.5 478.0,775.0 C479.1,770.5 480.4,763.3 481.0,758.0 C481.6,752.7 482.3,744.1 482.5,735.0 C482.7,725.9 482.7,700.0 482.5,690.0 C482.3,680.0 481.6,666.1 481.0,660.0 C480.4,653.9 479.1,648.4 478.0,644.0 C476.9,639.6 474.6,631.3 473.0,627.0 C471.4,622.7 468.1,615.7 466.0,612.0 C463.9,608.3 459.3,602.1 457.0,599.0 C454.7,595.9 450.7,591.5 449.0,589.0 C447.3,586.5 445.2,584.1 444.5,580.0 C443.8,575.9 446.9,561.2 444.0,558.3 C441.1,555.4 425.9,555.4 423.0,558.3Z" fill="url(#hred)" filter="url(#bl1)"/></g>
<rect x="426.5" y="563.3" width="14" height="294.20000000000005" rx="6" fill="url(#ystrip)" filter="url(#bl1)"/>
<ellipse cx="433.5" cy="620" rx="8" ry="20" fill="#eeb012" filter="url(#bl3)"/>
<ellipse cx="433.5" cy="802" rx="8" ry="20" fill="#eeb012" filter="url(#bl3)"/>
<ellipse cx="419.6" cy="675" rx="2.2" ry="19" fill="#e8701a" filter="url(#bl1)"/>
<ellipse cx="419.6" cy="744" rx="2.2" ry="19" fill="#e8701a" filter="url(#bl1)"/>
<ellipse cx="446.5" cy="675" rx="2.2" ry="19" fill="#e8701a" filter="url(#bl1)"/>
<ellipse cx="446.5" cy="744" rx="2.2" ry="19" fill="#e8701a" filter="url(#bl1)"/>
<ellipse cx="433.5" cy="710" rx="13" ry="42" fill="#5a1a16" filter="url(#bl2)"/>
<ellipse cx="400" cy="710.5" rx="7.8" ry="22.5" fill="#404040" filter="url(#bl1)"/>
<ellipse cx="466.8" cy="710.5" rx="7.8" ry="22.5" fill="#404040" filter="url(#bl1)"/>
<ellipse cx="433.5" cy="709.5" rx="8.6" ry="28" fill="url(#cgray)" filter="url(#bl1)"/>
<line x1="433.5" y1="709" x2="479" y2="709" stroke="#fff" stroke-width="2"/>
<path d="M477,703.5 L486.5,709 L477,714.5 L479.5,709Z" fill="#fff"/>
</g>
<defs><radialGradient id="gL" cx="0.4" cy="0.4" r="0.6"><stop offset="0" stop-color="#ececec"/><stop offset="1" stop-color="#c4c4c4"/></radialGradient><radialGradient id="gB" cx="0.45" cy="0.4" r="0.6"><stop offset="0" stop-color="#7fb4e6"/><stop offset="0.6" stop-color="#3a74b4"/><stop offset="1" stop-color="#173f78"/></radialGradient><radialGradient id="gD" cx="0.45" cy="0.4" r="0.6"><stop offset="0" stop-color="#b8b8b8"/><stop offset="1" stop-color="#8c8c8c"/></radialGradient></defs>
<g><line x1="183.3" y1="625.2" x2="183.3" y2="605.6" stroke="#b2c4d8" stroke-width="1.1"/><line x1="183.3" y1="625.2" x2="168.6" y2="613.8" stroke="#b2c4d8" stroke-width="1.1"/><line x1="183.3" y1="625.2" x2="197.9" y2="613.8" stroke="#b2c4d8" stroke-width="1.1"/><line x1="183.3" y1="625.2" x2="168.6" y2="630.1" stroke="#b2c4d8" stroke-width="1.1"/><line x1="183.3" y1="625.2" x2="197.9" y2="630.1" stroke="#b2c4d8" stroke-width="1.1"/><line x1="183.3" y1="625.2" x2="183.3" y2="639.1" stroke="#b2c4d8" stroke-width="1.1"/><line x1="212.6" y1="625.2" x2="212.6" y2="605.6" stroke="#b2c4d8" stroke-width="1.1"/><line x1="212.6" y1="625.2" x2="197.9" y2="613.8" stroke="#b2c4d8" stroke-width="1.1"/><line x1="212.6" y1="625.2" x2="227.3" y2="613.8" stroke="#b2c4d8" stroke-width="1.1"/><line x1="212.6" y1="625.2" x2="197.9" y2="630.1" stroke="#b2c4d8" stroke-width="1.1"/><line x1="212.6" y1="625.2" x2="227.3" y2="630.1" stroke="#b2c4d8" stroke-width="1.1"/><line x1="212.6" y1="625.2" x2="212.6" y2="639.1" stroke="#b2c4d8" stroke-width="1.1"/><line x1="242.0" y1="625.2" x2="242.0" y2="605.6" stroke="#b2c4d8" stroke-width="1.1"/><line x1="242.0" y1="625.2" x2="227.3" y2="613.8" stroke="#b2c4d8" stroke-width="1.1"/><line x1="242.0" y1="625.2" x2="256.7" y2="613.8" stroke="#b2c4d8" stroke-width="1.1"/><line x1="242.0" y1="625.2" x2="227.3" y2="630.1" stroke="#b2c4d8" stroke-width="1.1"/><line x1="242.0" y1="625.2" x2="256.7" y2="630.1" stroke="#b2c4d8" stroke-width="1.1"/><line x1="242.0" y1="625.2" x2="242.0" y2="639.1" stroke="#b2c4d8" stroke-width="1.1"/><line x1="168.6" y1="644.0" x2="168.6" y2="630.1" stroke="#c0c0c0" stroke-width="1.1"/><line x1="168.6" y1="644.0" x2="153.9" y2="639.1" stroke="#c0c0c0" stroke-width="1.1"/><line x1="168.6" y1="644.0" x2="183.3" y2="639.1" stroke="#c0c0c0" stroke-width="1.1"/><line x1="168.6" y1="644.0" x2="153.9" y2="652.9" stroke="#c0c0c0" stroke-width="1.1"/><line x1="168.6" y1="644.0" x2="183.3" y2="652.9" stroke="#c0c0c0" stroke-width="1.1"/><line x1="168.6" y1="644.0" x2="168.6" y2="661.9" stroke="#c0c0c0" stroke-width="1.1"/><line x1="197.9" y1="644.0" x2="197.9" y2="630.1" stroke="#c0c0c0" stroke-width="1.1"/><line x1="197.9" y1="644.0" x2="183.3" y2="639.1" stroke="#c0c0c0" stroke-width="1.1"/><line x1="197.9" y1="644.0" x2="212.6" y2="639.1" stroke="#c0c0c0" stroke-width="1.1"/><line x1="197.9" y1="644.0" x2="183.3" y2="652.9" stroke="#c0c0c0" stroke-width="1.1"/><line x1="197.9" y1="644.0" x2="212.6" y2="652.9" stroke="#c0c0c0" stroke-width="1.1"/><line x1="197.9" y1="644.0" x2="197.9" y2="661.9" stroke="#c0c0c0" stroke-width="1.1"/><line x1="227.3" y1="644.0" x2="227.3" y2="630.1" stroke="#c0c0c0" stroke-width="1.1"/><line x1="227.3" y1="644.0" x2="212.6" y2="639.1" stroke="#c0c0c0" stroke-width="1.1"/><line x1="227.3" y1="644.0" x2="242.0" y2="639.1" stroke="#c0c0c0" stroke-width="1.1"/><line x1="227.3" y1="644.0" x2="212.6" y2="652.9" stroke="#c0c0c0" stroke-width="1.1"/><line x1="227.3" y1="644.0" x2="242.0" y2="652.9" stroke="#c0c0c0" stroke-width="1.1"/><line x1="227.3" y1="644.0" x2="227.3" y2="661.9" stroke="#c0c0c0" stroke-width="1.1"/><line x1="256.7" y1="644.0" x2="256.7" y2="630.1" stroke="#c0c0c0" stroke-width="1.1"/><line x1="256.7" y1="644.0" x2="242.0" y2="639.1" stroke="#c0c0c0" stroke-width="1.1"/><line x1="256.7" y1="644.0" x2="271.3" y2="639.1" stroke="#c0c0c0" stroke-width="1.1"/><line x1="256.7" y1="644.0" x2="242.0" y2="652.9" stroke="#c0c0c0" stroke-width="1.1"/><line x1="256.7" y1="644.0" x2="271.3" y2="652.9" stroke="#c0c0c0" stroke-width="1.1"/><line x1="256.7" y1="644.0" x2="256.7" y2="661.9" stroke="#c0c0c0" stroke-width="1.1"/><line x1="183.3" y1="671.7" x2="183.3" y2="652.9" stroke="#c0c0c0" stroke-width="1.1"/><line x1="183.3" y1="671.7" x2="168.6" y2="661.9" stroke="#c0c0c0" stroke-width="1.1"/><line x1="183.3" y1="671.7" x2="197.9" y2="661.9" stroke="#c0c0c0" stroke-width="1.1"/><line x1="183.3" y1="671.7" x2="168.6" y2="676.6" stroke="#c0c0c0" stroke-width="1.1"/><line x1="183.3" y1="671.7" x2="197.9" y2="676.6" stroke="#c0c0c0" stroke-width="1.1"/><line x1="183.3" y1="671.7" x2="183.3" y2="684.7" stroke="#c0c0c0" stroke-width="1.1"/><line x1="212.6" y1="671.7" x2="212.6" y2="652.9" stroke="#c0c0c0" stroke-width="1.1"/><line x1="212.6" y1="671.7" x2="197.9" y2="661.9" stroke="#c0c0c0" stroke-width="1.1"/><line x1="212.6" y1="671.7" x2="227.3" y2="661.9" stroke="#c0c0c0" stroke-width="1.1"/><line x1="212.6" y1="671.7" x2="197.9" y2="676.6" stroke="#c0c0c0" stroke-width="1.1"/><line x1="212.6" y1="671.7" x2="227.3" y2="676.6" stroke="#c0c0c0" stroke-width="1.1"/><line x1="212.6" y1="671.7" x2="212.6" y2="684.7" stroke="#c0c0c0" stroke-width="1.1"/><line x1="242.0" y1="671.7" x2="242.0" y2="652.9" stroke="#c0c0c0" stroke-width="1.1"/><line x1="242.0" y1="671.7" x2="227.3" y2="661.9" stroke="#c0c0c0" stroke-width="1.1"/><line x1="242.0" y1="671.7" x2="256.7" y2="661.9" stroke="#c0c0c0" stroke-width="1.1"/><line x1="242.0" y1="671.7" x2="227.3" y2="676.6" stroke="#c0c0c0" stroke-width="1.1"/><line x1="242.0" y1="671.7" x2="256.7" y2="676.6" stroke="#c0c0c0" stroke-width="1.1"/><line x1="242.0" y1="671.7" x2="242.0" y2="684.7" stroke="#c0c0c0" stroke-width="1.1"/><line x1="168.6" y1="691.3" x2="168.6" y2="676.6" stroke="#b2c4d8" stroke-width="1.1"/><line x1="168.6" y1="691.3" x2="153.9" y2="684.7" stroke="#b2c4d8" stroke-width="1.1"/><line x1="168.6" y1="691.3" x2="183.3" y2="684.7" stroke="#b2c4d8" stroke-width="1.1"/><line x1="168.6" y1="691.3" x2="153.9" y2="701.9" stroke="#b2c4d8" stroke-width="1.1"/><line x1="168.6" y1="691.3" x2="183.3" y2="701.9" stroke="#b2c4d8" stroke-width="1.1"/><line x1="168.6" y1="691.3" x2="168.6" y2="710.0" stroke="#b2c4d8" stroke-width="1.1"/><line x1="197.9" y1="691.3" x2="197.9" y2="676.6" stroke="#b2c4d8" stroke-width="1.1"/><line x1="197.9" y1="691.3" x2="183.3" y2="684.7" stroke="#b2c4d8" stroke-width="1.1"/><line x1="197.9" y1="691.3" x2="212.6" y2="684.7" stroke="#b2c4d8" stroke-width="1.1"/><line x1="197.9" y1="691.3" x2="183.3" y2="701.9" stroke="#b2c4d8" stroke-width="1.1"/><line x1="197.9" y1="691.3" x2="212.6" y2="701.9" stroke="#b2c4d8" stroke-width="1.1"/><line x1="197.9" y1="691.3" x2="197.9" y2="710.0" stroke="#b2c4d8" stroke-width="1.1"/><line x1="227.3" y1="691.3" x2="227.3" y2="676.6" stroke="#b2c4d8" stroke-width="1.1"/><line x1="227.3" y1="691.3" x2="212.6" y2="684.7" stroke="#b2c4d8" stroke-width="1.1"/><line x1="227.3" y1="691.3" x2="242.0" y2="684.7" stroke="#b2c4d8" stroke-width="1.1"/><line x1="227.3" y1="691.3" x2="212.6" y2="701.9" stroke="#b2c4d8" stroke-width="1.1"/><line x1="227.3" y1="691.3" x2="242.0" y2="701.9" stroke="#b2c4d8" stroke-width="1.1"/><line x1="227.3" y1="691.3" x2="227.3" y2="710.0" stroke="#b2c4d8" stroke-width="1.1"/><line x1="256.7" y1="691.3" x2="256.7" y2="676.6" stroke="#b2c4d8" stroke-width="1.1"/><line x1="256.7" y1="691.3" x2="242.0" y2="684.7" stroke="#b2c4d8" stroke-width="1.1"/><line x1="256.7" y1="691.3" x2="271.3" y2="684.7" stroke="#b2c4d8" stroke-width="1.1"/><line x1="256.7" y1="691.3" x2="242.0" y2="701.9" stroke="#b2c4d8" stroke-width="1.1"/><line x1="256.7" y1="691.3" x2="271.3" y2="701.9" stroke="#b2c4d8" stroke-width="1.1"/><line x1="256.7" y1="691.3" x2="256.7" y2="710.0" stroke="#b2c4d8" stroke-width="1.1"/><line x1="183.3" y1="721.4" x2="183.3" y2="701.9" stroke="#b2c4d8" stroke-width="1.1"/><line x1="183.3" y1="721.4" x2="168.6" y2="710.0" stroke="#b2c4d8" stroke-width="1.1"/><line x1="183.3" y1="721.4" x2="197.9" y2="710.0" stroke="#b2c4d8" stroke-width="1.1"/><line x1="183.3" y1="721.4" x2="168.6" y2="726.3" stroke="#b2c4d8" stroke-width="1.1"/><line x1="183.3" y1="721.4" x2="197.9" y2="726.3" stroke="#b2c4d8" stroke-width="1.1"/><line x1="183.3" y1="721.4" x2="183.3" y2="735.3" stroke="#b2c4d8" stroke-width="1.1"/><line x1="212.6" y1="721.4" x2="212.6" y2="701.9" stroke="#b2c4d8" stroke-width="1.1"/><line x1="212.6" y1="721.4" x2="197.9" y2="710.0" stroke="#b2c4d8" stroke-width="1.1"/><line x1="212.6" y1="721.4" x2="227.3" y2="710.0" stroke="#b2c4d8" stroke-width="1.1"/><line x1="212.6" y1="721.4" x2="197.9" y2="726.3" stroke="#b2c4d8" stroke-width="1.1"/><line x1="212.6" y1="721.4" x2="227.3" y2="726.3" stroke="#b2c4d8" stroke-width="1.1"/><line x1="212.6" y1="721.4" x2="212.6" y2="735.3" stroke="#b2c4d8" stroke-width="1.1"/><line x1="242.0" y1="721.4" x2="242.0" y2="701.9" stroke="#b2c4d8" stroke-width="1.1"/><line x1="242.0" y1="721.4" x2="227.3" y2="710.0" stroke="#b2c4d8" stroke-width="1.1"/><line x1="242.0" y1="721.4" x2="256.7" y2="710.0" stroke="#b2c4d8" stroke-width="1.1"/><line x1="242.0" y1="721.4" x2="227.3" y2="726.3" stroke="#b2c4d8" stroke-width="1.1"/><line x1="242.0" y1="721.4" x2="256.7" y2="726.3" stroke="#b2c4d8" stroke-width="1.1"/><line x1="242.0" y1="721.4" x2="242.0" y2="735.3" stroke="#b2c4d8" stroke-width="1.1"/><line x1="168.6" y1="740.2" x2="168.6" y2="726.3" stroke="#c0c0c0" stroke-width="1.1"/><line x1="168.6" y1="740.2" x2="153.9" y2="735.3" stroke="#c0c0c0" stroke-width="1.1"/><line x1="168.6" y1="740.2" x2="183.3" y2="735.3" stroke="#c0c0c0" stroke-width="1.1"/><line x1="168.6" y1="740.2" x2="153.9" y2="749.2" stroke="#c0c0c0" stroke-width="1.1"/><line x1="168.6" y1="740.2" x2="183.3" y2="749.2" stroke="#c0c0c0" stroke-width="1.1"/><line x1="168.6" y1="740.2" x2="168.6" y2="758.2" stroke="#c0c0c0" stroke-width="1.1"/><line x1="197.9" y1="740.2" x2="197.9" y2="726.3" stroke="#c0c0c0" stroke-width="1.1"/><line x1="197.9" y1="740.2" x2="183.3" y2="735.3" stroke="#c0c0c0" stroke-width="1.1"/><line x1="197.9" y1="740.2" x2="212.6" y2="735.3" stroke="#c0c0c0" stroke-width="1.1"/><line x1="197.9" y1="740.2" x2="183.3" y2="749.2" stroke="#c0c0c0" stroke-width="1.1"/><line x1="197.9" y1="740.2" x2="212.6" y2="749.2" stroke="#c0c0c0" stroke-width="1.1"/><line x1="197.9" y1="740.2" x2="197.9" y2="758.2" stroke="#c0c0c0" stroke-width="1.1"/><line x1="227.3" y1="740.2" x2="227.3" y2="726.3" stroke="#c0c0c0" stroke-width="1.1"/><line x1="227.3" y1="740.2" x2="212.6" y2="735.3" stroke="#c0c0c0" stroke-width="1.1"/><line x1="227.3" y1="740.2" x2="242.0" y2="735.3" stroke="#c0c0c0" stroke-width="1.1"/><line x1="227.3" y1="740.2" x2="212.6" y2="749.2" stroke="#c0c0c0" stroke-width="1.1"/><line x1="227.3" y1="740.2" x2="242.0" y2="749.2" stroke="#c0c0c0" stroke-width="1.1"/><line x1="227.3" y1="740.2" x2="227.3" y2="758.2" stroke="#c0c0c0" stroke-width="1.1"/><line x1="256.7" y1="740.2" x2="256.7" y2="726.3" stroke="#c0c0c0" stroke-width="1.1"/><line x1="256.7" y1="740.2" x2="242.0" y2="735.3" stroke="#c0c0c0" stroke-width="1.1"/><line x1="256.7" y1="740.2" x2="271.3" y2="735.3" stroke="#c0c0c0" stroke-width="1.1"/><line x1="256.7" y1="740.2" x2="242.0" y2="749.2" stroke="#c0c0c0" stroke-width="1.1"/><line x1="256.7" y1="740.2" x2="271.3" y2="749.2" stroke="#c0c0c0" stroke-width="1.1"/><line x1="256.7" y1="740.2" x2="256.7" y2="758.2" stroke="#c0c0c0" stroke-width="1.1"/><line x1="183.3" y1="768.0" x2="183.3" y2="749.2" stroke="#c0c0c0" stroke-width="1.1"/><line x1="183.3" y1="768.0" x2="168.6" y2="758.2" stroke="#c0c0c0" stroke-width="1.1"/><line x1="183.3" y1="768.0" x2="197.9" y2="758.2" stroke="#c0c0c0" stroke-width="1.1"/><line x1="183.3" y1="768.0" x2="168.6" y2="772.8" stroke="#c0c0c0" stroke-width="1.1"/><line x1="183.3" y1="768.0" x2="197.9" y2="772.8" stroke="#c0c0c0" stroke-width="1.1"/><line x1="183.3" y1="768.0" x2="183.3" y2="781.5" stroke="#c0c0c0" stroke-width="1.1"/><line x1="212.6" y1="768.0" x2="212.6" y2="749.2" stroke="#c0c0c0" stroke-width="1.1"/><line x1="212.6" y1="768.0" x2="197.9" y2="758.2" stroke="#c0c0c0" stroke-width="1.1"/><line x1="212.6" y1="768.0" x2="227.3" y2="758.2" stroke="#c0c0c0" stroke-width="1.1"/><line x1="212.6" y1="768.0" x2="197.9" y2="772.8" stroke="#c0c0c0" stroke-width="1.1"/><line x1="212.6" y1="768.0" x2="227.3" y2="772.8" stroke="#c0c0c0" stroke-width="1.1"/><line x1="212.6" y1="768.0" x2="212.6" y2="781.5" stroke="#c0c0c0" stroke-width="1.1"/><line x1="242.0" y1="768.0" x2="242.0" y2="749.2" stroke="#c0c0c0" stroke-width="1.1"/><line x1="242.0" y1="768.0" x2="227.3" y2="758.2" stroke="#c0c0c0" stroke-width="1.1"/><line x1="242.0" y1="768.0" x2="256.7" y2="758.2" stroke="#c0c0c0" stroke-width="1.1"/><line x1="242.0" y1="768.0" x2="227.3" y2="772.8" stroke="#c0c0c0" stroke-width="1.1"/><line x1="242.0" y1="768.0" x2="256.7" y2="772.8" stroke="#c0c0c0" stroke-width="1.1"/><line x1="242.0" y1="768.0" x2="242.0" y2="781.5" stroke="#c0c0c0" stroke-width="1.1"/><line x1="168.6" y1="786.7" x2="168.6" y2="772.8" stroke="#b2c4d8" stroke-width="1.1"/><line x1="168.6" y1="786.7" x2="153.9" y2="781.5" stroke="#b2c4d8" stroke-width="1.1"/><line x1="168.6" y1="786.7" x2="183.3" y2="781.5" stroke="#b2c4d8" stroke-width="1.1"/><line x1="168.6" y1="786.7" x2="153.9" y2="797.8" stroke="#b2c4d8" stroke-width="1.1"/><line x1="168.6" y1="786.7" x2="183.3" y2="797.8" stroke="#b2c4d8" stroke-width="1.1"/><line x1="168.6" y1="786.7" x2="168.6" y2="806.7" stroke="#b2c4d8" stroke-width="1.1"/><line x1="197.9" y1="786.7" x2="197.9" y2="772.8" stroke="#b2c4d8" stroke-width="1.1"/><line x1="197.9" y1="786.7" x2="183.3" y2="781.5" stroke="#b2c4d8" stroke-width="1.1"/><line x1="197.9" y1="786.7" x2="212.6" y2="781.5" stroke="#b2c4d8" stroke-width="1.1"/><line x1="197.9" y1="786.7" x2="183.3" y2="797.8" stroke="#b2c4d8" stroke-width="1.1"/><line x1="197.9" y1="786.7" x2="212.6" y2="797.8" stroke="#b2c4d8" stroke-width="1.1"/><line x1="197.9" y1="786.7" x2="197.9" y2="806.7" stroke="#b2c4d8" stroke-width="1.1"/><line x1="227.3" y1="786.7" x2="227.3" y2="772.8" stroke="#b2c4d8" stroke-width="1.1"/><line x1="227.3" y1="786.7" x2="212.6" y2="781.5" stroke="#b2c4d8" stroke-width="1.1"/><line x1="227.3" y1="786.7" x2="242.0" y2="781.5" stroke="#b2c4d8" stroke-width="1.1"/><line x1="227.3" y1="786.7" x2="212.6" y2="797.8" stroke="#b2c4d8" stroke-width="1.1"/><line x1="227.3" y1="786.7" x2="242.0" y2="797.8" stroke="#b2c4d8" stroke-width="1.1"/><line x1="227.3" y1="786.7" x2="227.3" y2="806.7" stroke="#b2c4d8" stroke-width="1.1"/><line x1="256.7" y1="786.7" x2="256.7" y2="772.8" stroke="#b2c4d8" stroke-width="1.1"/><line x1="256.7" y1="786.7" x2="242.0" y2="781.5" stroke="#b2c4d8" stroke-width="1.1"/><line x1="256.7" y1="786.7" x2="271.3" y2="781.5" stroke="#b2c4d8" stroke-width="1.1"/><line x1="256.7" y1="786.7" x2="242.0" y2="797.8" stroke="#b2c4d8" stroke-width="1.1"/><line x1="256.7" y1="786.7" x2="271.3" y2="797.8" stroke="#b2c4d8" stroke-width="1.1"/><line x1="256.7" y1="786.7" x2="256.7" y2="806.7" stroke="#b2c4d8" stroke-width="1.1"/></g>
<g><circle cx="183.3" cy="605.6" r="3.7" fill="url(#gL)"/><circle cx="212.6" cy="605.6" r="3.7" fill="url(#gL)"/><circle cx="242.0" cy="605.6" r="3.7" fill="url(#gL)"/><circle cx="168.6" cy="613.8" r="3.7" fill="url(#gL)"/><circle cx="197.9" cy="613.8" r="3.7" fill="url(#gL)"/><circle cx="227.3" cy="613.8" r="3.7" fill="url(#gL)"/><circle cx="256.7" cy="613.8" r="3.7" fill="url(#gL)"/><circle cx="168.6" cy="630.1" r="3.7" fill="url(#gL)"/><circle cx="197.9" cy="630.1" r="3.7" fill="url(#gL)"/><circle cx="227.3" cy="630.1" r="3.7" fill="url(#gL)"/><circle cx="256.7" cy="630.1" r="3.7" fill="url(#gL)"/><circle cx="153.9" cy="639.1" r="3.7" fill="url(#gL)"/><circle cx="183.3" cy="639.1" r="3.7" fill="url(#gL)"/><circle cx="212.6" cy="639.1" r="3.7" fill="url(#gL)"/><circle cx="242.0" cy="639.1" r="3.7" fill="url(#gL)"/><circle cx="271.3" cy="639.1" r="3.7" fill="url(#gL)"/><circle cx="153.9" cy="652.9" r="3.7" fill="url(#gL)"/><circle cx="183.3" cy="652.9" r="3.7" fill="url(#gL)"/><circle cx="212.6" cy="652.9" r="3.7" fill="url(#gL)"/><circle cx="242.0" cy="652.9" r="3.7" fill="url(#gL)"/><circle cx="271.3" cy="652.9" r="3.7" fill="url(#gL)"/><circle cx="168.6" cy="661.9" r="3.7" fill="url(#gL)"/><circle cx="197.9" cy="661.9" r="3.7" fill="url(#gL)"/><circle cx="227.3" cy="661.9" r="3.7" fill="url(#gL)"/><circle cx="256.7" cy="661.9" r="3.7" fill="url(#gL)"/><circle cx="168.6" cy="676.6" r="3.7" fill="url(#gL)"/><circle cx="197.9" cy="676.6" r="3.7" fill="url(#gL)"/><circle cx="227.3" cy="676.6" r="3.7" fill="url(#gL)"/><circle cx="256.7" cy="676.6" r="3.7" fill="url(#gL)"/><circle cx="153.9" cy="684.7" r="3.7" fill="url(#gL)"/><circle cx="183.3" cy="684.7" r="3.7" fill="url(#gL)"/><circle cx="212.6" cy="684.7" r="3.7" fill="url(#gL)"/><circle cx="242.0" cy="684.7" r="3.7" fill="url(#gL)"/><circle cx="271.3" cy="684.7" r="3.7" fill="url(#gL)"/><circle cx="153.9" cy="701.9" r="3.7" fill="url(#gL)"/><circle cx="183.3" cy="701.9" r="3.7" fill="url(#gL)"/><circle cx="212.6" cy="701.9" r="3.7" fill="url(#gL)"/><circle cx="242.0" cy="701.9" r="3.7" fill="url(#gL)"/><circle cx="271.3" cy="701.9" r="3.7" fill="url(#gL)"/><circle cx="168.6" cy="710.0" r="3.7" fill="url(#gL)"/><circle cx="197.9" cy="710.0" r="3.7" fill="url(#gL)"/><circle cx="227.3" cy="710.0" r="3.7" fill="url(#gL)"/><circle cx="256.7" cy="710.0" r="3.7" fill="url(#gL)"/><circle cx="168.6" cy="726.3" r="3.7" fill="url(#gL)"/><circle cx="197.9" cy="726.3" r="3.7" fill="url(#gL)"/><circle cx="227.3" cy="726.3" r="3.7" fill="url(#gL)"/><circle cx="256.7" cy="726.3" r="3.7" fill="url(#gL)"/><circle cx="153.9" cy="735.3" r="3.7" fill="url(#gL)"/><circle cx="183.3" cy="735.3" r="3.7" fill="url(#gL)"/><circle cx="212.6" cy="735.3" r="3.7" fill="url(#gL)"/><circle cx="242.0" cy="735.3" r="3.7" fill="url(#gL)"/><circle cx="271.3" cy="735.3" r="3.7" fill="url(#gL)"/><circle cx="153.9" cy="749.2" r="3.7" fill="url(#gL)"/><circle cx="183.3" cy="749.2" r="3.7" fill="url(#gL)"/><circle cx="212.6" cy="749.2" r="3.7" fill="url(#gL)"/><circle cx="242.0" cy="749.2" r="3.7" fill="url(#gL)"/><circle cx="271.3" cy="749.2" r="3.7" fill="url(#gL)"/><circle cx="168.6" cy="758.2" r="3.7" fill="url(#gL)"/><circle cx="197.9" cy="758.2" r="3.7" fill="url(#gL)"/><circle cx="227.3" cy="758.2" r="3.7" fill="url(#gL)"/><circle cx="256.7" cy="758.2" r="3.7" fill="url(#gL)"/><circle cx="168.6" cy="772.8" r="3.7" fill="url(#gL)"/><circle cx="197.9" cy="772.8" r="3.7" fill="url(#gL)"/><circle cx="227.3" cy="772.8" r="3.7" fill="url(#gL)"/><circle cx="256.7" cy="772.8" r="3.7" fill="url(#gL)"/><circle cx="153.9" cy="781.5" r="3.7" fill="url(#gL)"/><circle cx="183.3" cy="781.5" r="3.7" fill="url(#gL)"/><circle cx="212.6" cy="781.5" r="3.7" fill="url(#gL)"/><circle cx="242.0" cy="781.5" r="3.7" fill="url(#gL)"/><circle cx="271.3" cy="781.5" r="3.7" fill="url(#gL)"/><circle cx="153.9" cy="797.8" r="3.7" fill="url(#gL)"/><circle cx="183.3" cy="797.8" r="3.7" fill="url(#gL)"/><circle cx="212.6" cy="797.8" r="3.7" fill="url(#gL)"/><circle cx="242.0" cy="797.8" r="3.7" fill="url(#gL)"/><circle cx="271.3" cy="797.8" r="3.7" fill="url(#gL)"/><circle cx="168.6" cy="806.7" r="3.7" fill="url(#gL)"/><circle cx="197.9" cy="806.7" r="3.7" fill="url(#gL)"/><circle cx="227.3" cy="806.7" r="3.7" fill="url(#gL)"/><circle cx="256.7" cy="806.7" r="3.7" fill="url(#gL)"/></g>
<g><circle cx="183.3" cy="625.2" r="4.2" fill="url(#gB)"/><circle cx="212.6" cy="625.2" r="4.2" fill="url(#gB)"/><circle cx="242.0" cy="625.2" r="4.2" fill="url(#gB)"/><circle cx="168.6" cy="644.0" r="3.3" fill="url(#gD)"/><circle cx="197.9" cy="644.0" r="3.3" fill="url(#gD)"/><circle cx="227.3" cy="644.0" r="3.3" fill="url(#gD)"/><circle cx="256.7" cy="644.0" r="3.3" fill="url(#gD)"/><circle cx="183.3" cy="671.7" r="3.3" fill="url(#gD)"/><circle cx="212.6" cy="671.7" r="3.3" fill="url(#gD)"/><circle cx="242.0" cy="671.7" r="3.3" fill="url(#gD)"/><circle cx="168.6" cy="691.3" r="4.2" fill="url(#gB)"/><circle cx="197.9" cy="691.3" r="4.2" fill="url(#gB)"/><circle cx="227.3" cy="691.3" r="4.2" fill="url(#gB)"/><circle cx="256.7" cy="691.3" r="4.2" fill="url(#gB)"/><circle cx="183.3" cy="721.4" r="4.2" fill="url(#gB)"/><circle cx="212.6" cy="721.4" r="4.2" fill="url(#gB)"/><circle cx="242.0" cy="721.4" r="4.2" fill="url(#gB)"/><circle cx="168.6" cy="740.2" r="3.3" fill="url(#gD)"/><circle cx="197.9" cy="740.2" r="3.3" fill="url(#gD)"/><circle cx="227.3" cy="740.2" r="3.3" fill="url(#gD)"/><circle cx="256.7" cy="740.2" r="3.3" fill="url(#gD)"/><circle cx="183.3" cy="768.0" r="3.3" fill="url(#gD)"/><circle cx="212.6" cy="768.0" r="3.3" fill="url(#gD)"/><circle cx="242.0" cy="768.0" r="3.3" fill="url(#gD)"/><circle cx="168.6" cy="786.7" r="4.2" fill="url(#gB)"/><circle cx="197.9" cy="786.7" r="4.2" fill="url(#gB)"/><circle cx="227.3" cy="786.7" r="4.2" fill="url(#gB)"/><circle cx="256.7" cy="786.7" r="4.2" fill="url(#gB)"/></g>
<path d="M130,801 L130,827.5 L154,827.5" fill="none" stroke="#111" stroke-width="1.6"/>
<path d="M126.3,806 L130,799 L133.7,806Z" fill="#111"/>
<path d="M151,823.8 L158,827.5 L151,831.2Z" fill="#111"/>
<text x="123.5" y="795" font-size="20" font-style="italic" fill="#111">b</text>
<text x="164" y="832" font-size="20" font-style="italic" fill="#111">a</text>
<defs><linearGradient id="cbar" x1="0" y1="0" x2="0" y2="1"><stop offset="0" stop-color="#f4c20c"/><stop offset="0.12" stop-color="#e88a10"/><stop offset="0.24" stop-color="#c81a10"/><stop offset="0.36" stop-color="#5a1a14"/><stop offset="0.45" stop-color="#2a2a2a"/><stop offset="0.6" stop-color="#8a8a8a"/><stop offset="0.75" stop-color="#e4e4e4"/><stop offset="0.85" stop-color="#fff"/><stop offset="1" stop-color="#fff"/></linearGradient></defs>
<rect x="712" y="605.8" width="17.3" height="61" fill="url(#cbar)" stroke="#111" stroke-width="1.2"/>
<text x="720.7" y="592.0" font-size="19.5" text-anchor="middle" fill="#111" >High</text>
<text x="720.7" y="685.5" font-size="19.5" text-anchor="middle" fill="#111" >Low</text>
<text x="497.5" y="716.3" font-size="20.2" fill="#111"><tspan font-style="italic">Q</tspan><tspan dy="-6.5" font-size="15">*</tspan><tspan dy="6.5"> = (0.068, 0)</tspan></text>
<defs><linearGradient id="ldg" x1="0" y1="765" x2="0" y2="812" gradientUnits="userSpaceOnUse"><stop offset="0" stop-color="#d8503c"/><stop offset="0.55" stop-color="#f0a898"/><stop offset="1" stop-color="#fff" stop-opacity="0"/></linearGradient></defs>
<path d="M565.0,816.1 L566.6,816.3 L568.2,815.9 L569.8,814.8 L571.5,813.2 L573.1,811.0 L574.7,808.2 L576.3,805.1 L577.9,801.6 L579.5,797.8 L581.1,793.8 L582.8,789.8 L584.4,785.8 L586.0,781.9 L587.6,778.2 L589.2,774.9 L590.8,772.0 L592.5,769.5 L594.1,767.6 L595.7,766.3 L597.3,765.6 L598.9,765.6 L600.5,766.1 L602.1,767.3 L603.8,769.2 L605.4,771.5 L607.0,774.4 L608.6,777.6 L610.2,781.2 L611.8,785.1 L613.4,789.1 L615.1,793.1 L616.7,797.1 L618.3,800.9 L619.9,804.5 L621.5,807.7 L623.1,810.5 L624.8,812.8 L626.4,814.6 L628.0,815.7 L629.6,816.3 L631.2,816.2 L632.8,815.4 L634.4,814.0 L636.1,812.1 L637.7,809.6 L639.3,806.6 L640.9,803.3 L642.5,799.6 L644.1,795.7 L645.8,791.7 L647.4,787.6 L649.0,783.7 L650.6,779.9 L652.2,776.4 L653.8,773.3 L655.4,770.6 L657.1,768.5 L658.7,766.9 L660.3,765.9 L661.9,765.5 L663.5,765.8 L665.1,766.7 L666.7,768.2 L668.4,770.3 L670.0,773.0 L671.6,776.0 L673.2,779.5 L674.8,783.2 L676.4,787.2 L678.0,791.2 L679.7,795.2 L681.3,799.1 L682.9,802.8 L684.5,806.2 L686.1,809.2 L687.7,811.8 L689.4,813.8 L691.0,815.3 L692.6,816.1 L694.2,816.3 L695.8,815.8 L697.4,814.8 L699.0,813.1 L700.7,810.8 L702.3,808.1 L703.9,804.9 L705.5,801.4 L707.1,797.6 L708.7,793.6 L710.3,789.6 L712.0,785.6 L713.6,781.7 L715.2,778.0 L716.8,774.7 L718.4,771.8 L720.0,769.4 L721.7,767.5 L723.3,766.3 L724.9,765.6 L726.5,765.6 L728.1,766.2 L729.7,767.4 L731.3,769.3 L733.0,771.6 L734.6,774.5 L736.2,777.8 L737.8,781.4 L739.4,785.3 L741.0,789.3 L742.6,793.3 L744.3,797.3 L745.9,801.1 L747.5,804.7 L749.1,807.9 L750.7,810.6 L752.3,812.9 L754.0,814.7 L755.6,815.8 L757.2,816.3 L758.8,816.1 L758.8,816.3 L565,816.3Z" fill="url(#ldg)"/>
<path d="M565.0,816.1 L566.6,816.3 L568.2,815.9 L569.8,814.8 L571.5,813.2 L573.1,811.0 L574.7,808.2 L576.3,805.1 L577.9,801.6 L579.5,797.8 L581.1,793.8 L582.8,789.8 L584.4,785.8 L586.0,781.9 L587.6,778.2 L589.2,774.9 L590.8,772.0 L592.5,769.5 L594.1,767.6 L595.7,766.3 L597.3,765.6 L598.9,765.6 L600.5,766.1 L602.1,767.3 L603.8,769.2 L605.4,771.5 L607.0,774.4 L608.6,777.6 L610.2,781.2 L611.8,785.1 L613.4,789.1 L615.1,793.1 L616.7,797.1 L618.3,800.9 L619.9,804.5 L621.5,807.7 L623.1,810.5 L624.8,812.8 L626.4,814.6 L628.0,815.7 L629.6,816.3 L631.2,816.2 L632.8,815.4 L634.4,814.0 L636.1,812.1 L637.7,809.6 L639.3,806.6 L640.9,803.3 L642.5,799.6 L644.1,795.7 L645.8,791.7 L647.4,787.6 L649.0,783.7 L650.6,779.9 L652.2,776.4 L653.8,773.3 L655.4,770.6 L657.1,768.5 L658.7,766.9 L660.3,765.9 L661.9,765.5 L663.5,765.8 L665.1,766.7 L666.7,768.2 L668.4,770.3 L670.0,773.0 L671.6,776.0 L673.2,779.5 L674.8,783.2 L676.4,787.2 L678.0,791.2 L679.7,795.2 L681.3,799.1 L682.9,802.8 L684.5,806.2 L686.1,809.2 L687.7,811.8 L689.4,813.8 L691.0,815.3 L692.6,816.1 L694.2,816.3 L695.8,815.8 L697.4,814.8 L699.0,813.1 L700.7,810.8 L702.3,808.1 L703.9,804.9 L705.5,801.4 L707.1,797.6 L708.7,793.6 L710.3,789.6 L712.0,785.6 L713.6,781.7 L715.2,778.0 L716.8,774.7 L718.4,771.8 L720.0,769.4 L721.7,767.5 L723.3,766.3 L724.9,765.6 L726.5,765.6 L728.1,766.2 L729.7,767.4 L731.3,769.3 L733.0,771.6 L734.6,774.5 L736.2,777.8 L737.8,781.4 L739.4,785.3 L741.0,789.3 L742.6,793.3 L744.3,797.3 L745.9,801.1 L747.5,804.7 L749.1,807.9 L750.7,810.6 L752.3,812.9 L754.0,814.7 L755.6,815.8 L757.2,816.3 L758.8,816.1" fill="none" stroke="#e0553f" stroke-width="1.3"/>
<circle cx="568.0" cy="793.8" r="2.6" fill="#3a70ac"/>
<circle cx="580.2" cy="793.8" r="2.6" fill="#3a70ac"/>
<circle cx="592.4" cy="793.8" r="2.6" fill="#3a70ac"/>
<circle cx="604.5" cy="793.8" r="2.6" fill="#3a70ac"/>
<circle cx="616.7" cy="793.8" r="2.6" fill="#3a70ac"/>
<circle cx="628.9" cy="793.8" r="2.6" fill="#3a70ac"/>
<circle cx="641.1" cy="793.8" r="2.6" fill="#3a70ac"/>
<circle cx="653.3" cy="793.8" r="2.6" fill="#3a70ac"/>
<circle cx="665.4" cy="793.8" r="2.6" fill="#3a70ac"/>
<circle cx="677.6" cy="793.8" r="2.6" fill="#3a70ac"/>
<circle cx="689.8" cy="793.8" r="2.6" fill="#3a70ac"/>
<circle cx="702.0" cy="793.8" r="2.6" fill="#3a70ac"/>
<circle cx="714.2" cy="793.8" r="2.6" fill="#3a70ac"/>
<circle cx="726.3" cy="793.8" r="2.6" fill="#3a70ac"/>
<circle cx="738.5" cy="793.8" r="2.6" fill="#3a70ac"/>
<circle cx="750.7" cy="793.8" r="2.6" fill="#3a70ac"/>
<line x1="597.5" y1="760.5" x2="662.5" y2="760.5" stroke="#111" stroke-width="1.4"/>
<line x1="597.5" y1="756.5" x2="597.5" y2="764.5" stroke="#111" stroke-width="1.4"/>
<line x1="662.5" y1="756.5" x2="662.5" y2="764.5" stroke="#111" stroke-width="1.4"/>
<text x="629" y="753.5" font-size="19.5" text-anchor="middle" fill="#111">15<tspan font-style="italic">a</tspan></text>
<text transform="translate(540.5,808) rotate(-90)" font-size="19.5" text-anchor="middle" fill="#111">LDOS</text>
<path d="M549.5,816 L549.5,832.5 L565,832.5" fill="none" stroke="#111" stroke-width="1"/>
<path d="M547.3,819 L549.5,814.5 L551.7,819Z" fill="#111"/>
<path d="M563,830.3 L567.5,832.5 L563,834.7Z" fill="#111"/>
<text x="573" y="838.5" font-size="19.5" font-style="italic" fill="#111">a</text>
<text x="653.5" y="841.2" font-size="20.2" fill="#111">Ta chain</text>
<rect x="101.5" y="563.5" width="664.0" height="294.0" fill="none" stroke="#000" stroke-width="1.5"/>
<line x1="101.5" y1="592.5" x2="107.5" y2="592.5" stroke="#111" stroke-width="1.3"/>
<line x1="101.5" y1="710.3" x2="107.5" y2="710.3" stroke="#111" stroke-width="1.3"/>
<line x1="101.5" y1="828.2" x2="107.5" y2="828.2" stroke="#111" stroke-width="1.3"/>
<line x1="167.3" y1="857.5" x2="167.3" y2="851.5" stroke="#111" stroke-width="1.3"/>
<line x1="300.5" y1="857.5" x2="300.5" y2="851.5" stroke="#111" stroke-width="1.3"/>
<line x1="433.6" y1="857.5" x2="433.6" y2="851.5" stroke="#111" stroke-width="1.3"/>
<line x1="566.5" y1="857.5" x2="566.5" y2="851.5" stroke="#111" stroke-width="1.3"/>
<line x1="699.5" y1="857.5" x2="699.5" y2="851.5" stroke="#111" stroke-width="1.3"/>
<text x="95.5" y="599.5" font-size="19.5" text-anchor="end" fill="#111" >0.4</text>
<text x="95.5" y="717.3" font-size="19.5" text-anchor="end" fill="#111" >0</text>
<text x="95.5" y="835.2" font-size="19.5" text-anchor="end" fill="#111" >−0.4</text>
<text x="167.3" y="878.5" font-size="19.5" text-anchor="middle" fill="#111" >−0.4</text>
<text x="300.5" y="878.5" font-size="19.5" text-anchor="middle" fill="#111" >−2.0</text>
<text x="433.6" y="878.5" font-size="19.5" text-anchor="middle" fill="#111" >0</text>
<text x="566.5" y="878.5" font-size="19.5" text-anchor="middle" fill="#111" >0.2</text>
<text x="699.5" y="878.5" font-size="19.5" text-anchor="middle" fill="#111" >0.4</text>
<text x="428" y="904.3" font-size="20.3" text-anchor="middle" fill="#111"><tspan font-style="italic">Q</tspan><tspan dy="4.5" font-size="14" font-style="italic">a</tspan><tspan dy="-4.5"> (2π/</tspan><tspan font-style="italic">a</tspan>)</text>
<text transform="translate(49,719.2) rotate(-90)" font-size="20.3" text-anchor="middle" fill="#111">Q<tspan dy="4.5" font-size="14" font-style="italic">b</tspan><tspan dy="-4.5"> (2π/</tspan><tspan font-style="italic">b</tspan>)</text>
<text x="16" y="578.7" font-size="24" font-weight="bold" fill="#000" stroke="#000" stroke-width="1.0">d</text>
<defs>
<clipPath id="cp1"><path d="M839.5,68.3 L1164.8,6.8 L1191.1,76.9 L865.8,138.4Z"/></clipPath>
<clipPath id="cp2"><path d="M839.5,154.0 L1164.8,92.5 L1191.1,162.6 L865.8,224.1Z"/></clipPath>
<clipPath id="cp3"><path d="M839.5,239.7 L1164.8,178.2 L1191.1,248.3 L865.8,309.8Z"/></clipPath>
<clipPath id="cp4"><path d="M839.5,325.4 L1164.8,263.9 L1191.1,334.0 L865.8,395.5Z"/></clipPath>
<clipPath id="cp5"><path d="M839.5,411.1 L1164.8,349.6 L1191.1,419.7 L865.8,481.2Z"/></clipPath>
<clipPath id="cp6"><path d="M839.5,496.8 L1164.8,435.3 L1191.1,505.4 L865.8,566.9Z"/></clipPath>
<clipPath id="cp7"><path d="M839.5,582.5 L1164.8,521.0 L1191.1,591.1 L865.8,652.6Z"/></clipPath>
<clipPath id="cp8"><path d="M839.5,668.2 L1164.8,606.7 L1191.1,676.8 L865.8,738.3Z"/></clipPath>
<clipPath id="cp9"><path d="M839.5,753.9 L1164.8,692.4 L1191.1,762.5 L865.8,824.0Z"/></clipPath>
<clipPath id="cp10"><path d="M839.5,839.6 L1164.8,778.1 L1191.1,848.2 L865.8,909.7Z"/></clipPath>
</defs>
<line x1="839.5" y1="68.3" x2="839.5" y2="839.6" stroke="#000" stroke-width="1.5"/>
<line x1="1164.8" y1="6.8" x2="1164.8" y2="778.1" stroke="#000" stroke-width="1.5"/>
<line x1="1190.8" y1="73.5" x2="1190.8" y2="852.8" stroke="#000" stroke-width="1.5"/>
<path d="M839.5,68.3 L1164.8,6.8 L1191.1,76.9 L865.8,138.4Z" fill="#fff"/>
<g clip-path="url(#cp1)"><path d="M974.1,38.3 C974.4,39.1 974.9,41.3 975.6,43.3 C976.3,45.3 976.6,46.4 978.5,50.3 C980.4,54.2 984.6,62.4 986.7,66.7 C988.8,71.0 989.9,72.5 991.3,76.0 C992.6,79.5 993.6,83.4 994.8,87.7 C996.0,92.0 997.2,97.7 998.3,101.7 C999.4,105.7 1000.5,108.9 1001.3,111.6 C1002.0,114.2 1002.5,116.6 1002.8,117.6 L1055.2,107.7 C1054.9,106.7 1054.0,104.3 1053.2,101.7 C1052.4,99.1 1051.7,95.8 1050.3,92.3 C1048.9,88.8 1046.8,84.6 1045.0,80.7 C1043.2,76.8 1040.8,72.7 1039.2,69.0 C1037.7,65.3 1036.9,62.4 1035.7,58.5 C1034.5,54.6 1033.5,49.8 1032.2,45.7 C1030.9,41.6 1029.0,36.8 1028.1,34.0 C1027.2,31.2 1026.8,29.8 1026.6,29.0Z" fill="#ebcfbf" stroke="#111" stroke-width="0.9"/></g>
<path d="M839.5,68.3 L1164.8,6.8 L1191.1,76.9 L865.8,138.4Z" fill="none" stroke="#000" stroke-width="1.6" stroke-linejoin="miter"/>
<circle cx="1149.6" cy="47.3" r="11" fill="none" stroke="#111" stroke-width="1.5"/>
<text x="1149.6" y="53.4" font-size="17" text-anchor="middle" fill="#111">1</text>
<path d="M839.5,154.0 L1164.8,92.5 L1191.1,162.6 L865.8,224.1Z" fill="#fff"/>
<g clip-path="url(#cp2)"><path d="M980.5,123.0 C980.8,123.8 981.2,125.7 982.5,128.0 C983.8,130.3 986.1,134.0 988.0,137.0 C989.9,140.0 991.7,142.5 994.0,146.0 C996.3,149.5 1000.1,153.3 1002.0,158.0 C1003.9,162.7 1004.7,169.3 1005.5,174.0 C1006.3,178.7 1006.6,182.3 1007.0,186.0 C1007.4,189.7 1007.7,193.5 1008.0,196.0 C1008.3,198.5 1008.5,200.2 1008.6,201.0 L1018.2,199.0 C1017.9,198.1 1017.5,196.7 1016.5,193.5 C1015.5,190.3 1012.9,183.4 1012.5,180.0 C1012.1,176.6 1012.8,174.7 1014.0,173.0 C1015.2,171.3 1017.3,169.8 1020.0,170.0 C1022.7,170.2 1027.2,170.8 1030.0,174.0 C1032.8,177.2 1035.4,185.7 1037.0,189.0 C1038.6,192.3 1039.1,193.2 1039.5,194.0 L1049.5,193.0 C1049.0,192.2 1048.2,191.0 1046.5,188.0 C1044.8,185.0 1041.8,179.2 1039.0,175.0 C1036.2,170.8 1032.5,167.8 1030.0,163.0 C1027.5,158.2 1025.1,150.7 1024.0,146.0 C1022.9,141.3 1023.9,139.2 1023.5,135.0 C1023.1,130.8 1022.0,124.2 1021.5,121.0 C1021.0,117.8 1020.7,116.8 1020.5,116.0 L1010.0,117.0 C1010.3,117.9 1010.8,119.5 1012.0,122.5 C1013.2,125.5 1016.3,131.4 1017.0,135.0 C1017.7,138.6 1017.5,141.9 1016.0,144.0 C1014.5,146.1 1010.3,147.3 1008.0,147.5 C1005.7,147.7 1004.0,146.4 1002.0,145.0 C1000.0,143.6 997.9,142.1 996.0,139.0 C994.1,135.9 991.8,129.5 990.5,126.5 C989.2,123.5 988.8,121.9 988.5,121.0Z" fill="#ece4e1" stroke="#111" stroke-width="0.9"/></g>
<path d="M839.5,154.0 L1164.8,92.5 L1191.1,162.6 L865.8,224.1Z" fill="none" stroke="#000" stroke-width="1.6" stroke-linejoin="miter"/>
<circle cx="1149.6" cy="133.2" r="11" fill="none" stroke="#111" stroke-width="1.5"/>
<text x="1149.6" y="139.3" font-size="17" text-anchor="middle" fill="#111">2</text>
<path d="M839.5,239.7 L1164.8,178.2 L1191.1,248.3 L865.8,309.8Z" fill="#fff"/>
<g clip-path="url(#cp3)"><path d="M981.0,208.0 C981.3,208.9 981.8,211.0 983.0,213.5 C984.2,216.0 985.7,220.1 988.0,223.0 C990.3,225.9 994.8,228.2 997.0,231.0 C999.2,233.8 999.7,236.8 1001.0,240.0 C1002.3,243.2 1004.0,246.7 1005.0,250.0 C1006.0,253.3 1006.8,256.7 1007.0,260.0 C1007.2,263.3 1006.2,266.5 1006.5,270.0 C1006.8,273.5 1008.1,278.3 1008.5,281.0 C1008.9,283.7 1008.9,285.2 1009.0,286.0 L1017.5,285.0 C1017.2,284.2 1016.8,282.5 1016.0,280.0 C1015.2,277.5 1013.8,273.0 1013.0,270.0 C1012.2,267.0 1010.8,264.2 1011.0,262.0 C1011.2,259.8 1012.5,258.2 1014.0,257.0 C1015.5,255.8 1017.8,255.2 1020.0,255.0 C1022.2,254.8 1025.0,255.5 1027.0,256.0 C1029.0,256.5 1030.7,256.5 1032.0,258.0 C1033.3,259.5 1034.0,262.2 1035.0,265.0 C1036.0,267.8 1037.2,272.5 1038.0,275.0 C1038.8,277.5 1039.7,279.2 1040.0,280.0 L1048.5,279.0 C1048.1,278.2 1047.1,276.3 1046.0,274.0 C1044.9,271.7 1044.0,267.7 1042.0,265.0 C1040.0,262.3 1036.0,260.5 1034.0,258.0 C1032.0,255.5 1031.3,253.0 1030.0,250.0 C1028.7,247.0 1027.3,243.0 1026.0,240.0 C1024.7,237.0 1022.5,235.0 1022.0,232.0 C1021.5,229.0 1023.2,225.3 1023.0,222.0 C1022.8,218.7 1021.4,215.3 1021.0,212.0 C1020.6,208.7 1020.6,203.7 1020.5,202.0 L1011.5,203.0 C1011.8,203.8 1012.1,205.5 1013.0,208.0 C1013.9,210.5 1016.0,214.7 1017.0,218.0 C1018.0,221.3 1019.5,225.5 1019.0,228.0 C1018.5,230.5 1015.8,232.0 1014.0,233.0 C1012.2,234.0 1010.0,234.2 1008.0,234.0 C1006.0,233.8 1003.8,232.8 1002.0,232.0 C1000.2,231.2 998.3,230.7 997.0,229.0 C995.7,227.3 995.2,224.8 994.0,222.0 C992.8,219.2 990.9,215.0 990.0,212.5 C989.1,210.0 988.8,207.9 988.5,207.0Z" fill="#ece4e1" stroke="#111" stroke-width="0.9"/></g>
<path d="M839.5,239.7 L1164.8,178.2 L1191.1,248.3 L865.8,309.8Z" fill="none" stroke="#000" stroke-width="1.6" stroke-linejoin="miter"/>
<circle cx="1149.6" cy="219.2" r="11" fill="none" stroke="#111" stroke-width="1.5"/>
<text x="1149.6" y="225.3" font-size="17" text-anchor="middle" fill="#111">3</text>
<path d="M839.5,325.4 L1164.8,263.9 L1191.1,334.0 L865.8,395.5Z" fill="#fff"/>
<g clip-path="url(#cp4)"><path d="M982.0,294.0 L983.0,299.0 Q987.2,307.5 993.5,312.0 Q991.4,305.0 990.0,298.0 L989.0,293.0Z" fill="#ece4e1" stroke="#111" stroke-width="0.9"/><path d="M1012.5,288.5 L1013.5,293.5 Q1016.1,302.5 1020.0,307.5 Q1021.0,300.0 1020.0,292.5 L1019.0,287.5Z" fill="#ece4e1" stroke="#111" stroke-width="0.9"/><path d="M1009.0,372.0 L1008.0,367.0 Q1007.0,360.5 1009.0,354.0 Q1012.9,359.0 1015.5,366.0 L1016.5,371.0Z" fill="#ece4e1" stroke="#111" stroke-width="0.9"/><path d="M1039.5,367.0 L1038.5,362.0 Q1037.5,355.5 1036.0,349.0 Q1041.7,353.8 1045.5,360.5 L1046.5,365.5Z" fill="#ece4e1" stroke="#111" stroke-width="0.9"/><path d="M1001.5,322.0 C1002.1,320.7 1007.8,321.4 1010.0,321.0 C1012.2,320.6 1018.4,317.8 1020.0,318.5 C1021.6,319.2 1023.0,324.7 1024.0,327.0 C1025.0,329.3 1029.1,336.5 1028.5,338.0 C1027.9,339.5 1021.2,339.5 1019.0,340.0 C1016.8,340.5 1011.6,343.4 1010.0,342.5 C1008.4,341.6 1006.0,334.4 1005.0,332.0 C1004.0,329.6 1000.9,323.3 1001.5,322.0Z" fill="#ece4e1" stroke="#111" stroke-width="0.9"/></g>
<path d="M839.5,325.4 L1164.8,263.9 L1191.1,334.0 L865.8,395.5Z" fill="none" stroke="#000" stroke-width="1.6" stroke-linejoin="miter"/>
<circle cx="1149.6" cy="305.1" r="11" fill="none" stroke="#111" stroke-width="1.5"/>
<text x="1149.6" y="311.2" font-size="17" text-anchor="middle" fill="#111">4</text>
<path d="M839.5,411.1 L1164.8,349.6 L1191.1,419.7 L865.8,481.2Z" fill="#fff"/>
<g clip-path="url(#cp5)"><ellipse cx="1014.7" cy="416.3" rx="5.8" ry="4" fill="#e6e7e8" stroke="#111" stroke-width="0.9"/></g>
<path d="M839.5,411.1 L1164.8,349.6 L1191.1,419.7 L865.8,481.2Z" fill="none" stroke="#000" stroke-width="1.6" stroke-linejoin="miter"/>
<circle cx="1149.6" cy="391.1" r="11" fill="none" stroke="#111" stroke-width="1.5"/>
<text x="1149.6" y="397.2" font-size="17" text-anchor="middle" fill="#111">5</text>
<path d="M839.5,496.8 L1164.8,435.3 L1191.1,505.4 L865.8,566.9Z" fill="#fff"/>
<g clip-path="url(#cp6)"><ellipse cx="1014.7" cy="502.1" rx="4.2" ry="4.6" transform="rotate(-20 1014.7 502.1)" fill="#e2edf8" stroke="#111" stroke-width="0.9"/></g>
<path d="M839.5,496.8 L1164.8,435.3 L1191.1,505.4 L865.8,566.9Z" fill="none" stroke="#000" stroke-width="1.6" stroke-linejoin="miter"/>
<circle cx="1149.6" cy="477.0" r="11" fill="none" stroke="#111" stroke-width="1.5"/>
<text x="1149.6" y="483.1" font-size="17" text-anchor="middle" fill="#111">6</text>
<path d="M839.5,582.5 L1164.8,521.0 L1191.1,591.1 L865.8,652.6Z" fill="#fff"/>
<g clip-path="url(#cp7)"><path d="M982.0,551.1 L983.0,556.1 Q987.2,564.6 993.5,569.1 Q991.4,562.1 990.0,555.1 L989.0,550.1Z" fill="#d9e8f5" stroke="#111" stroke-width="0.9"/><path d="M1012.5,545.6 L1013.5,550.6 Q1016.1,559.6 1020.0,564.6 Q1021.0,557.1 1020.0,549.6 L1019.0,544.6Z" fill="#d9e8f5" stroke="#111" stroke-width="0.9"/><path d="M1009.0,629.1 L1008.0,624.1 Q1007.0,617.6 1009.0,611.1 Q1012.9,616.1 1015.5,623.1 L1016.5,628.1Z" fill="#d9e8f5" stroke="#111" stroke-width="0.9"/><path d="M1039.5,624.1 L1038.5,619.1 Q1037.5,612.6 1036.0,606.1 Q1041.7,610.9 1045.5,617.6 L1046.5,622.6Z" fill="#d9e8f5" stroke="#111" stroke-width="0.9"/><path d="M1003.4,576.5 C1003.7,573.9 1007.8,574.9 1010.0,574.5 C1012.2,574.1 1014.6,572.6 1016.6,574.4 C1018.6,576.1 1020.4,581.1 1022.0,585.0 C1023.6,588.9 1026.5,595.0 1026.2,597.7 C1025.9,600.4 1022.0,600.3 1020.0,601.0 C1018.0,601.7 1016.5,603.7 1014.5,601.9 C1012.5,600.1 1009.9,594.2 1008.0,590.0 C1006.1,585.8 1003.1,579.1 1003.4,576.5Z" fill="#d9e8f5" stroke="#111" stroke-width="0.9"/></g>
<path d="M839.5,582.5 L1164.8,521.0 L1191.1,591.1 L865.8,652.6Z" fill="none" stroke="#000" stroke-width="1.6" stroke-linejoin="miter"/>
<circle cx="1149.6" cy="562.9" r="11" fill="none" stroke="#111" stroke-width="1.5"/>
<text x="1149.6" y="569.0" font-size="17" text-anchor="middle" fill="#111">7</text>
<path d="M839.5,668.2 L1164.8,606.7 L1191.1,676.8 L865.8,738.3Z" fill="#fff"/>
<g clip-path="url(#cp8)"><path d="M981.0,636.5 C981.3,637.4 981.8,639.5 983.0,642.0 C984.2,644.5 985.7,648.6 988.0,651.5 C990.3,654.4 994.8,656.7 997.0,659.5 C999.2,662.3 999.7,665.3 1001.0,668.5 C1002.3,671.7 1004.0,675.2 1005.0,678.5 C1006.0,681.8 1006.8,685.2 1007.0,688.5 C1007.2,691.8 1006.2,695.0 1006.5,698.5 C1006.8,702.0 1008.1,706.8 1008.5,709.5 C1008.9,712.2 1008.9,713.7 1009.0,714.5 L1017.5,713.5 C1017.2,712.7 1016.8,711.0 1016.0,708.5 C1015.2,706.0 1013.8,701.5 1013.0,698.5 C1012.2,695.5 1010.8,692.7 1011.0,690.5 C1011.2,688.3 1012.5,686.7 1014.0,685.5 C1015.5,684.3 1017.8,683.7 1020.0,683.5 C1022.2,683.3 1025.0,684.0 1027.0,684.5 C1029.0,685.0 1030.7,685.0 1032.0,686.5 C1033.3,688.0 1034.0,690.7 1035.0,693.5 C1036.0,696.3 1037.2,701.0 1038.0,703.5 C1038.8,706.0 1039.7,707.7 1040.0,708.5 L1048.5,707.5 C1048.1,706.7 1047.1,704.8 1046.0,702.5 C1044.9,700.2 1044.0,696.2 1042.0,693.5 C1040.0,690.8 1036.0,689.0 1034.0,686.5 C1032.0,684.0 1031.3,681.5 1030.0,678.5 C1028.7,675.5 1027.3,671.5 1026.0,668.5 C1024.7,665.5 1022.5,663.5 1022.0,660.5 C1021.5,657.5 1023.2,653.8 1023.0,650.5 C1022.8,647.2 1021.4,643.8 1021.0,640.5 C1020.6,637.2 1020.6,632.2 1020.5,630.5 L1011.5,631.5 C1011.8,632.3 1012.1,634.0 1013.0,636.5 C1013.9,639.0 1016.0,643.2 1017.0,646.5 C1018.0,649.8 1019.5,654.0 1019.0,656.5 C1018.5,659.0 1015.8,660.5 1014.0,661.5 C1012.2,662.5 1010.0,662.7 1008.0,662.5 C1006.0,662.3 1003.8,661.3 1002.0,660.5 C1000.2,659.7 998.3,659.2 997.0,657.5 C995.7,655.8 995.2,653.2 994.0,650.5 C992.8,647.8 990.9,643.5 990.0,641.0 C989.1,638.5 988.8,636.4 988.5,635.5Z" fill="#d9e8f5" stroke="#111" stroke-width="0.9"/></g>
<path d="M839.5,668.2 L1164.8,606.7 L1191.1,676.8 L865.8,738.3Z" fill="none" stroke="#000" stroke-width="1.6" stroke-linejoin="miter"/>
<circle cx="1149.6" cy="648.9" r="11" fill="none" stroke="#111" stroke-width="1.5"/>
<text x="1149.6" y="655.0" font-size="17" text-anchor="middle" fill="#111">8</text>
<path d="M839.5,753.9 L1164.8,692.4 L1191.1,762.5 L865.8,824.0Z" fill="#fff"/>
<g clip-path="url(#cp9)"><path d="M980.5,722.9 C980.8,723.7 981.2,725.6 982.5,727.9 C983.8,730.2 986.1,733.9 988.0,736.9 C989.9,739.9 991.7,742.4 994.0,745.9 C996.3,749.4 1000.1,753.2 1002.0,757.9 C1003.9,762.6 1004.7,769.2 1005.5,773.9 C1006.3,778.6 1006.6,782.2 1007.0,785.9 C1007.4,789.6 1007.7,793.4 1008.0,795.9 C1008.3,798.4 1008.5,800.1 1008.6,800.9 L1018.2,798.9 C1017.9,798.0 1017.5,796.6 1016.5,793.4 C1015.5,790.2 1012.9,783.3 1012.5,779.9 C1012.1,776.5 1012.8,774.6 1014.0,772.9 C1015.2,771.2 1017.3,769.7 1020.0,769.9 C1022.7,770.1 1027.2,770.7 1030.0,773.9 C1032.8,777.1 1035.4,785.6 1037.0,788.9 C1038.6,792.2 1039.1,793.1 1039.5,793.9 L1049.5,792.9 C1049.0,792.1 1048.2,790.9 1046.5,787.9 C1044.8,784.9 1041.8,779.1 1039.0,774.9 C1036.2,770.7 1032.5,767.7 1030.0,762.9 C1027.5,758.1 1025.1,750.6 1024.0,745.9 C1022.9,741.2 1023.9,739.1 1023.5,734.9 C1023.1,730.7 1022.0,724.1 1021.5,720.9 C1021.0,717.7 1020.7,716.7 1020.5,715.9 L1010.0,716.9 C1010.3,717.8 1010.8,719.4 1012.0,722.4 C1013.2,725.4 1016.3,731.3 1017.0,734.9 C1017.7,738.5 1017.5,742.6 1016.0,743.9 C1014.5,745.1 1010.3,742.8 1008.0,742.4 C1005.7,742.0 1004.0,742.0 1002.0,741.4 C1000.0,740.8 997.9,741.4 996.0,738.9 C994.1,736.4 991.8,729.4 990.5,726.4 C989.2,723.4 988.8,721.8 988.5,720.9Z" fill="#d9e8f5" stroke="#111" stroke-width="0.9"/></g>
<path d="M839.5,753.9 L1164.8,692.4 L1191.1,762.5 L865.8,824.0Z" fill="none" stroke="#000" stroke-width="1.6" stroke-linejoin="miter"/>
<circle cx="1149.6" cy="734.8" r="11" fill="none" stroke="#111" stroke-width="1.5"/>
<text x="1149.6" y="740.9" font-size="17" text-anchor="middle" fill="#111">9</text>
<path d="M839.5,839.6 L1164.8,778.1 L1191.1,848.2 L865.8,909.7Z" fill="#fff"/>
<g clip-path="url(#cp10)"><path d="M978.5,809.0 C978.8,809.8 979.1,811.2 980.0,814.0 C980.9,816.8 982.0,822.3 984.0,826.0 C986.0,829.7 989.3,832.7 992.0,836.0 C994.7,839.3 998.3,842.7 1000.0,846.0 C1001.7,849.3 1001.8,852.5 1002.0,856.0 C1002.2,859.5 1000.9,862.6 1001.5,867.0 C1002.1,871.4 1004.6,878.9 1005.5,882.5 C1006.4,886.1 1006.8,887.5 1007.0,888.5 L1050.5,881.0 C1050.2,880.0 1049.6,878.2 1048.5,875.0 C1047.4,871.8 1046.2,865.8 1044.0,862.0 C1041.8,858.2 1037.5,855.0 1035.0,852.0 C1032.5,849.0 1030.4,847.2 1029.0,844.0 C1027.6,840.8 1026.8,836.2 1026.5,833.0 C1026.2,829.8 1026.8,827.7 1027.0,825.0 C1027.2,822.3 1028.2,820.2 1027.5,817.0 C1026.8,813.8 1023.6,808.7 1022.5,806.0 C1021.4,803.3 1021.2,801.8 1021.0,801.0Z" fill="#c9dff3" stroke="#111" stroke-width="0.9"/></g>
<path d="M839.5,839.6 L1164.8,778.1 L1191.1,848.2 L865.8,909.7Z" fill="none" stroke="#000" stroke-width="1.6" stroke-linejoin="miter"/>
<circle cx="1149.6" cy="820.8" r="11" fill="none" stroke="#111" stroke-width="1.5"/>
<text x="1148.8" y="826.6" font-size="16" text-anchor="middle" fill="#111" letter-spacing="-1.8">10</text>
<line x1="830.1" y1="841.4" x2="839.5" y2="839.6" stroke="#000" stroke-width="1.5"/>
<line x1="843.2" y1="876.4" x2="852.6" y2="874.6" stroke="#000" stroke-width="1.5"/>
<line x1="856.4" y1="911.5" x2="865.8" y2="909.7" stroke="#000" stroke-width="1.5"/>
<line x1="865.8" y1="909.7" x2="868.6" y2="917.1" stroke="#000" stroke-width="1.5"/>
<line x1="1028.5" y1="879.5" x2="1031" y2="886.5" stroke="#000" stroke-width="1.5"/>
<text x="816.5" y="891.8" font-size="20.5" font-style="italic" fill="#111">k<tspan dy="6.5" font-size="15">b</tspan></text>
<text x="1028.5" y="909.5" font-size="20.5" font-style="italic" fill="#111">k<tspan dy="6.5" font-size="15">a</tspan></text>
<text x="805" y="37" font-size="24" font-weight="bold" fill="#000" stroke="#000" stroke-width="1.0">c</text>
<path d="M594.1,57.5 L627.3,57.5  C627.5,57.7 627.7,59.8 628.5,61.0 C629.3,62.2 631.5,64.5 633.0,66.0 C634.5,67.5 638.5,70.8 640.0,72.5 C641.5,74.2 643.1,76.4 644.0,78.7 C644.9,81.0 645.8,86.6 646.5,90.0 C647.2,93.4 648.4,100.7 649.0,104.0 C649.6,107.3 650.0,111.2 650.7,114.7 C651.4,118.2 652.8,125.7 654.0,130.0 C655.2,134.3 658.4,142.8 660.0,146.7 C661.6,150.6 664.2,155.8 666.0,159.0 C667.8,162.2 671.4,168.2 673.3,170.7 C675.2,173.2 678.2,176.5 680.0,178.0 C681.8,179.5 684.0,180.5 686.7,181.7 C689.4,182.9 696.6,185.7 700.0,186.7 C703.4,187.7 709.1,188.8 712.0,189.5 C714.9,190.2 719.9,190.9 721.7,191.7 C723.5,192.5 725.5,194.7 725.5,195.8 C725.5,196.9 723.3,199.0 721.7,200.0 C720.1,201.0 716.6,202.5 713.3,203.3 C710.0,204.1 701.1,204.8 696.7,205.8 C692.3,206.8 683.8,209.2 680.0,210.8 C676.2,212.4 671.4,215.7 668.3,217.5 C665.2,219.3 660.7,222.3 656.7,224.2 C652.7,226.1 643.4,229.6 638.3,231.7 C633.2,233.8 621.6,238.0 618.3,240.0 C615.0,242.0 614.9,244.7 613.3,246.7 C611.7,248.7 607.5,253.0 606.0,255.0 C604.5,257.0 602.6,260.0 602.0,262.0 C601.4,264.0 601.6,267.8 601.7,270.0 C601.8,272.2 602.0,276.2 602.5,278.3 C603.0,280.4 604.6,284.0 605.5,286.0 C606.4,288.0 608.0,290.1 609.2,293.3 C610.4,296.5 612.9,306.3 614.2,310.0 C615.5,313.7 617.1,318.7 619.2,320.8 C621.3,322.9 626.8,324.7 630.0,326.0 C633.2,327.3 638.4,329.2 643.3,330.8 C648.2,332.4 660.9,336.3 666.7,338.3 C672.5,340.3 682.3,344.3 686.7,345.8 C691.1,347.3 696.2,348.9 700.0,349.7 C703.8,350.5 711.0,351.4 715.0,352.0 C719.0,352.6 726.4,353.5 730.0,354.2 C733.6,354.9 739.6,356.5 741.7,357.5 C743.8,358.5 745.8,360.6 745.8,361.7 C745.8,362.8 744.5,364.8 741.7,365.8 C738.9,366.8 729.5,368.2 725.0,369.2 C720.5,370.2 711.6,372.1 708.3,373.3 C705.0,374.5 701.8,377.1 700.0,378.3 C698.2,379.5 696.8,380.5 695.0,382.5 C693.2,384.5 690.0,391.0 686.7,393.3 C683.4,395.6 673.8,398.4 670.0,400.0 C666.2,401.6 661.1,403.8 658.3,405.0 C655.5,406.2 650.3,407.6 649.2,409.2 C648.1,410.8 649.3,413.3 650.0,416.7 C650.7,420.1 653.1,431.0 654.2,435.0 C655.3,439.0 657.0,443.8 658.0,447.0 C659.0,450.2 661.0,457.2 661.5,458.8 L594.1,458.5 Z" fill="#efefef"/>
<path d="M627.3,57.2 C627.5,57.7 627.7,59.8 628.5,61.0 C629.3,62.2 631.5,64.5 633.0,66.0 C634.5,67.5 638.5,70.8 640.0,72.5 C641.5,74.2 643.1,76.4 644.0,78.7 C644.9,81.0 645.8,86.6 646.5,90.0 C647.2,93.4 648.4,100.7 649.0,104.0 C649.6,107.3 650.0,111.2 650.7,114.7 C651.4,118.2 652.8,125.7 654.0,130.0 C655.2,134.3 658.4,142.8 660.0,146.7 C661.6,150.6 664.2,155.8 666.0,159.0 C667.8,162.2 671.4,168.2 673.3,170.7 C675.2,173.2 678.2,176.5 680.0,178.0 C681.8,179.5 684.0,180.5 686.7,181.7 C689.4,182.9 696.6,185.7 700.0,186.7 C703.4,187.7 709.1,188.8 712.0,189.5 C714.9,190.2 719.9,190.9 721.7,191.7 C723.5,192.5 725.5,194.7 725.5,195.8 C725.5,196.9 723.3,199.0 721.7,200.0 C720.1,201.0 716.6,202.5 713.3,203.3 C710.0,204.1 701.1,204.8 696.7,205.8 C692.3,206.8 683.8,209.2 680.0,210.8 C676.2,212.4 671.4,215.7 668.3,217.5 C665.2,219.3 660.7,222.3 656.7,224.2 C652.7,226.1 643.4,229.6 638.3,231.7 C633.2,233.8 621.6,238.0 618.3,240.0 C615.0,242.0 614.9,244.7 613.3,246.7 C611.7,248.7 607.5,253.0 606.0,255.0 C604.5,257.0 602.6,260.0 602.0,262.0 C601.4,264.0 601.6,267.8 601.7,270.0 C601.8,272.2 602.0,276.2 602.5,278.3 C603.0,280.4 604.6,284.0 605.5,286.0 C606.4,288.0 608.0,290.1 609.2,293.3 C610.4,296.5 612.9,306.3 614.2,310.0 C615.5,313.7 617.1,318.7 619.2,320.8 C621.3,322.9 626.8,324.7 630.0,326.0 C633.2,327.3 638.4,329.2 643.3,330.8 C648.2,332.4 660.9,336.3 666.7,338.3 C672.5,340.3 682.3,344.3 686.7,345.8 C691.1,347.3 696.2,348.9 700.0,349.7 C703.8,350.5 711.0,351.4 715.0,352.0 C719.0,352.6 726.4,353.5 730.0,354.2 C733.6,354.9 739.6,356.5 741.7,357.5 C743.8,358.5 745.8,360.6 745.8,361.7 C745.8,362.8 744.5,364.8 741.7,365.8 C738.9,366.8 729.5,368.2 725.0,369.2 C720.5,370.2 711.6,372.1 708.3,373.3 C705.0,374.5 701.8,377.1 700.0,378.3 C698.2,379.5 696.8,380.5 695.0,382.5 C693.2,384.5 690.0,391.0 686.7,393.3 C683.4,395.6 673.8,398.4 670.0,400.0 C666.2,401.6 661.1,403.8 658.3,405.0 C655.5,406.2 650.3,407.6 649.2,409.2 C648.1,410.8 649.3,413.3 650.0,416.7 C650.7,420.1 653.1,431.0 654.2,435.0 C655.3,439.0 657.0,443.8 658.0,447.0 C659.0,450.2 661.0,457.2 661.5,458.8" fill="none" stroke="#1224c4" stroke-width="2.75" stroke-linejoin="round"/>
<rect x="593.5" y="57.5" width="171.0" height="401.0" fill="none" stroke="#000" stroke-width="1.5"/>
<line x1="593.5" y1="112.7" x2="599.5" y2="112.7" stroke="#111" stroke-width="1.3"/>
<line x1="593.5" y1="270" x2="599.5" y2="270" stroke="#111" stroke-width="1.3"/>
<line x1="593.5" y1="427.5" x2="599.5" y2="427.5" stroke="#111" stroke-width="1.3"/>
<line x1="601.7" y1="458.5" x2="601.7" y2="452.5" stroke="#111" stroke-width="1.3"/>
<line x1="655.8" y1="458.5" x2="655.8" y2="452.5" stroke="#111" stroke-width="1.3"/>
<line x1="710" y1="458.5" x2="710" y2="452.5" stroke="#111" stroke-width="1.3"/>
<text x="585.5" y="119.7" font-size="19.5" text-anchor="end" fill="#111" >0.1</text>
<text x="585.5" y="277.0" font-size="19.5" text-anchor="end" fill="#111" >0</text>
<text x="585.5" y="434.5" font-size="19.5" text-anchor="end" fill="#111" >−0.1</text>
<text x="601.7" y="481.0" font-size="19.5" text-anchor="middle" fill="#111" >0</text>
<text x="655.8" y="481.0" font-size="19.5" text-anchor="middle" fill="#111" >5</text>
<text x="710.0" y="481.0" font-size="19.5" text-anchor="middle" fill="#111" >10</text>
<text x="764.2" y="481.0" font-size="19.5" text-anchor="middle" fill="#111" >15</text>
<text x="680.2" y="511" font-size="20.3" text-anchor="middle" fill="#111">DOS (×10<tspan dy="-7" font-size="13">14</tspan><tspan dy="7"> eV</tspan><tspan dy="-7" font-size="13">−1</tspan><tspan dy="7"> cm</tspan><tspan dy="-7" font-size="13">−2</tspan><tspan dy="7">)</tspan></text>
<text transform="translate(546.5,269.5) rotate(-90)" font-size="20.2" text-anchor="middle" fill="#111">Energy (eV)</text>
<circle cx="660" cy="72" r="8" fill="#fff" stroke="#111" stroke-width="1.5"/>
<text x="660" y="75.9" font-size="11" text-anchor="middle" fill="#111">1</text>
<circle cx="692.5" cy="168.5" r="8" fill="#fff" stroke="#111" stroke-width="1.5"/>
<text x="692.5" y="172.4" font-size="11" text-anchor="middle" fill="#111">2</text>
<circle cx="740.8" cy="197.5" r="8" fill="#fff" stroke="#111" stroke-width="1.5"/>
<text x="740.8" y="201.4" font-size="11" text-anchor="middle" fill="#111">3</text>
<circle cx="695.5" cy="218" r="8" fill="#fff" stroke="#111" stroke-width="1.5"/>
<text x="695.5" y="221.9" font-size="11" text-anchor="middle" fill="#111">4</text>
<circle cx="632.2" cy="248.7" r="8" fill="#fff" stroke="#111" stroke-width="1.5"/>
<text x="632.2" y="252.6" font-size="11" text-anchor="middle" fill="#111">5</text>
<circle cx="622.5" cy="294.7" r="8" fill="#fff" stroke="#111" stroke-width="1.5"/>
<text x="622.5" y="298.59999999999997" font-size="11" text-anchor="middle" fill="#111">6</text>
<circle cx="720.8" cy="342" r="8" fill="#fff" stroke="#111" stroke-width="1.5"/>
<text x="720.8" y="345.9" font-size="11" text-anchor="middle" fill="#111">7</text>
<circle cx="755" cy="362" r="8" fill="#fff" stroke="#111" stroke-width="1.5"/>
<text x="755" y="365.9" font-size="11" text-anchor="middle" fill="#111">8</text>
<circle cx="725.5" cy="382" r="8" fill="#fff" stroke="#111" stroke-width="1.5"/>
<text x="725.5" y="385.9" font-size="11" text-anchor="middle" fill="#111">9</text>
<circle cx="675.8" cy="414.2" r="8" fill="#fff" stroke="#111" stroke-width="1.5"/>
<text x="675.1999999999999" y="418.0" font-size="10.5" text-anchor="middle" fill="#111" letter-spacing="-1.3">10</text>
<text x="533.5" y="43.5" font-size="24" font-weight="bold" fill="#000" stroke="#000" stroke-width="1.0">b</text>
<defs><clipPath id="clipe"><rect x="100.5" y="972.5" width="306.0" height="264.0"/></clipPath></defs>
<rect x="100.5" y="1071.7" width="306.0" height="51.6" fill="#fddcdc"/>
<line x1="202.1" y1="972.5" x2="202.1" y2="1236.5" stroke="#c8c8c8" stroke-width="1.2"/>
<line x1="304.6" y1="972.5" x2="304.6" y2="1236.5" stroke="#c8c8c8" stroke-width="1.2"/>
<line x1="100.5" y1="1105" x2="406.5" y2="1105" stroke="#666" stroke-width="1.4" stroke-dasharray="4.6,2.6"/>
<g clip-path="url(#clipe)">
<path d="M101.0,1029.0 C104.5,1026.8 114.9,1020.4 121.7,1015.7 C128.5,1011.0 135.7,1005.9 141.7,1001.0 C147.7,996.1 152.6,991.1 157.7,986.3 C162.8,981.5 169.9,974.6 172.3,972.3" fill="none" stroke="#111" stroke-width="1.45" stroke-linejoin="round"/>
<path d="M101.0,1030.2 C104.5,1028.2 114.9,1022.6 121.7,1018.1 C128.5,1013.6 135.7,1008.3 141.7,1003.4 C147.7,998.5 152.6,993.5 157.7,988.7 C162.8,983.9 169.9,977.0 172.3,974.7" fill="none" stroke="#111" stroke-width="1.45" stroke-linejoin="round"/>
<path d="M101.0,1030.3 C104.5,1032.3 113.8,1037.8 121.7,1042.3 C129.6,1046.8 139.4,1052.8 148.3,1057.0 C157.2,1061.2 166.1,1065.4 175.0,1067.7 C183.9,1070.0 196.6,1070.4 201.7,1071.0 C206.8,1071.6 205.0,1071.2 205.7,1071.3" fill="none" stroke="#111" stroke-width="1.5" stroke-linejoin="round"/>
<path d="M101.0,1031.0 C104.5,1033.2 113.8,1039.8 121.7,1044.5 C129.6,1049.2 139.4,1055.0 148.3,1059.2 C157.2,1063.4 166.1,1067.8 175.0,1069.9 C183.9,1072.1 196.6,1071.9 201.7,1072.1 C206.8,1072.3 205.0,1071.4 205.7,1071.3" fill="none" stroke="#111" stroke-width="1.5" stroke-linejoin="round"/>
<path d="M201.7,1071.3 C202.6,1071.3 204.8,1072.1 207.0,1071.3 C209.2,1070.5 211.4,1070.2 215.0,1066.3 C218.6,1062.4 223.9,1054.8 228.3,1047.7 C232.8,1040.6 237.2,1031.9 241.7,1023.7 C246.1,1015.5 250.9,1006.1 255.0,998.3 C259.1,990.5 263.7,981.5 266.0,977.0 C268.3,972.5 268.5,972.0 269.0,971.0" fill="none" stroke="#111" stroke-width="1.5" stroke-linejoin="round"/>
<path d="M201.7,1071.3 C202.6,1071.4 204.8,1072.4 207.0,1072.0 C209.2,1071.5 211.4,1072.2 215.0,1068.5 C218.6,1064.8 223.9,1057.1 228.3,1049.9 C232.8,1042.7 237.2,1033.6 241.7,1025.0 C246.1,1016.4 250.9,1006.3 255.0,998.3 C259.1,990.3 263.7,981.5 266.0,977.0 C268.3,972.5 268.5,972.0 269.0,971.0" fill="none" stroke="#111" stroke-width="1.5" stroke-linejoin="round"/>
<path d="M256.0,968.0 C256.8,968.7 258.4,970.3 260.7,972.3 C263.0,974.2 266.2,976.9 270.0,979.7 C273.8,982.5 278.9,986.6 283.3,989.0 C287.8,991.4 292.9,993.3 296.7,994.3 C300.5,995.3 304.4,994.9 306.0,995.0" fill="none" stroke="#111" stroke-width="2.8" stroke-linejoin="round"/>
<path d="M304.6,995.0 C305.8,993.2 309.6,987.7 312.0,984.0 C314.4,980.3 317.6,975.7 319.3,973.0 C321.0,970.3 321.6,968.8 322.0,968.0" fill="none" stroke="#111" stroke-width="1.7" stroke-linejoin="round"/>
<path d="M304.6,995.0 C307.7,999.3 316.9,1012.7 323.3,1021.0 C329.8,1029.3 336.6,1037.9 343.3,1045.0 C350.0,1052.1 358.1,1059.8 363.3,1063.7 C368.5,1067.6 370.2,1069.2 374.7,1068.3 C379.1,1067.4 384.7,1063.0 390.0,1058.3 C395.3,1053.6 403.9,1043.3 406.7,1040.3" fill="none" stroke="#111" stroke-width="1.7" stroke-linejoin="round"/>
<path d="M304.6,995.0 C307.7,999.4 316.9,1013.1 323.3,1021.7 C329.8,1030.2 336.6,1038.9 343.3,1046.3 C350.0,1053.7 358.1,1061.9 363.3,1065.9 C368.5,1069.9 370.2,1071.4 374.7,1070.5 C379.1,1069.6 384.7,1065.5 390.0,1060.5 C395.3,1055.5 403.9,1043.7 406.7,1040.3" fill="none" stroke="#111" stroke-width="1.7" stroke-linejoin="round"/>
<path d="M357.0,967.0 C357.6,968.0 356.3,966.7 360.7,973.0 C365.1,979.3 375.6,993.9 383.3,1005.0 C391.0,1016.1 402.8,1033.9 406.7,1039.7" fill="none" stroke="#111" stroke-width="2.0" stroke-linejoin="round"/>
<path d="M101.0,1201.3 C104.5,1197.5 113.8,1186.7 121.7,1178.7 C129.6,1170.7 139.4,1160.9 148.3,1153.3 C157.2,1145.7 167.2,1137.9 175.0,1133.3 C182.8,1128.7 189.9,1126.9 195.0,1125.5 C200.1,1124.1 201.2,1123.0 205.7,1124.7 C210.1,1126.5 216.8,1131.7 221.7,1136.0 C226.6,1140.3 232.8,1148.2 235.0,1150.7" fill="none" stroke="#111" stroke-width="1.5" stroke-linejoin="round"/>
<path d="M101.0,1202.0 C104.5,1198.5 113.8,1188.8 121.7,1181.1 C129.6,1173.4 139.4,1163.3 148.3,1155.7 C157.2,1148.1 167.2,1140.5 175.0,1135.7 C182.8,1130.9 189.9,1128.5 195.0,1126.7 C200.1,1124.9 201.2,1123.2 205.7,1124.7 C210.1,1126.2 216.8,1131.7 221.7,1136.0 C226.6,1140.3 232.8,1148.2 235.0,1150.7" fill="none" stroke="#111" stroke-width="1.5" stroke-linejoin="round"/>
<path d="M235.0,1150.7 C236.7,1152.0 241.7,1156.1 245.0,1158.5 C248.3,1160.9 251.8,1162.5 255.0,1165.3 C258.2,1168.1 260.9,1171.3 264.2,1175.1 C267.5,1178.9 271.5,1184.5 275.0,1188.0 C278.5,1191.5 280.1,1194.2 285.4,1196.3 C290.7,1198.4 298.4,1200.7 306.7,1200.6 C315.0,1200.5 325.6,1198.4 335.0,1195.6 C344.4,1192.8 353.9,1188.4 363.3,1183.6 C372.8,1178.8 384.4,1171.1 391.7,1166.6 C399.0,1162.1 404.6,1158.3 407.2,1156.7" fill="none" stroke="#111" stroke-width="2.0" stroke-linejoin="round"/>
<path d="M235.0,1150.7 C236.7,1152.8 241.7,1158.8 245.0,1163.0 C248.3,1167.2 250.6,1172.3 255.0,1176.0 C259.4,1179.7 266.1,1181.6 271.2,1185.0 C276.3,1188.4 283.0,1194.4 285.4,1196.3" fill="none" stroke="#111" stroke-width="1.5" stroke-linejoin="round"/>
<path d="M101.0,1204.0 C104.2,1206.7 113.7,1214.5 120.0,1220.0 C126.3,1225.5 135.3,1233.4 139.0,1236.7 C142.7,1240.0 141.5,1239.5 142.0,1240.0" fill="none" stroke="#111" stroke-width="1.5" stroke-linejoin="round"/>
<path d="M101.0,1205.5 C104.7,1208.2 115.8,1216.8 123.0,1222.0 C130.2,1227.2 140.3,1233.7 144.3,1236.7 C148.3,1239.7 146.6,1239.5 147.0,1240.0" fill="none" stroke="#111" stroke-width="1.5" stroke-linejoin="round"/>
<path d="M303.0,1240.0 C303.6,1239.1 303.9,1238.6 306.7,1234.6 C309.5,1230.6 315.3,1222.4 320.0,1216.0 C324.7,1209.6 330.0,1202.8 335.0,1196.3 C340.0,1189.8 345.3,1182.7 350.0,1177.0 C354.7,1171.3 359.3,1166.5 363.3,1162.3 C367.3,1158.1 370.4,1154.3 374.0,1152.0 C377.6,1149.7 380.9,1148.5 384.6,1148.2 C388.3,1147.9 392.2,1148.6 396.0,1150.0 C399.8,1151.4 405.3,1155.6 407.2,1156.7" fill="none" stroke="#111" stroke-width="1.5" stroke-linejoin="round"/>
<path d="M304.8,1240.0 C305.4,1239.2 305.6,1238.8 308.5,1235.0 C311.3,1231.3 317.0,1223.5 321.8,1217.3 C326.5,1211.2 331.8,1204.5 336.8,1198.1 C341.7,1191.6 347.0,1184.4 351.5,1178.8 C356.1,1173.1 360.4,1168.3 364.2,1164.1 C367.9,1159.8 370.6,1155.9 374.0,1153.3 C377.4,1150.8 380.9,1149.4 384.6,1148.9 C388.3,1148.3 392.2,1148.7 396.0,1150.0 C399.8,1151.3 405.3,1155.6 407.2,1156.7" fill="none" stroke="#111" stroke-width="1.5" stroke-linejoin="round"/>
<path d="M249.0,1238.0 C250.2,1236.8 253.7,1233.2 256.0,1231.0 C258.3,1228.8 260.5,1226.4 263.0,1225.0 C265.5,1223.6 267.5,1222.5 271.2,1222.5 C274.9,1222.5 279.3,1223.2 285.0,1225.0 C290.7,1226.8 301.4,1231.7 305.2,1233.2 C309.0,1234.7 307.5,1233.9 308.0,1234.0" fill="none" stroke="#111" stroke-width="1.5" stroke-linejoin="round"/>
<path d="M255.0,1239.0 C256.3,1237.8 259.8,1233.8 263.0,1232.0 C266.2,1230.2 269.6,1228.4 274.1,1228.2 C278.6,1228.0 284.8,1229.7 290.0,1231.0 C295.2,1232.3 302.7,1235.2 305.2,1236.0" fill="none" stroke="#111" stroke-width="1.5" stroke-linejoin="round"/>
</g>
<rect x="100.5" y="972.5" width="306.0" height="264.0" fill="none" stroke="#000" stroke-width="1.5"/>
<line x1="202.1" y1="1236.5" x2="202.1" y2="1231.5" stroke="#111" stroke-width="1.3"/>
<line x1="304.6" y1="1236.5" x2="304.6" y2="1231.5" stroke="#111" stroke-width="1.3"/>
<line x1="100.5" y1="1105" x2="104.5" y2="1105" stroke="#111" stroke-width="1.3"/>
<text x="93.0" y="979.5" font-size="19.5" text-anchor="end" fill="#111" >0.1</text>
<text x="93.0" y="1112.0" font-size="19.5" text-anchor="end" fill="#111" >0</text>
<text x="93.0" y="1243.5" font-size="19.5" text-anchor="end" fill="#111" >−0.1</text>
<text x="101.5" y="1258.0" font-size="19.5" text-anchor="middle" fill="#111" >Y</text>
<text x="203.1" y="1258.0" font-size="19.5" text-anchor="middle" fill="#111" >Γ</text>
<text x="305.6" y="1258.0" font-size="19.5" text-anchor="middle" fill="#111" >X</text>
<text x="407.5" y="1258.0" font-size="19.5" text-anchor="middle" fill="#111" >R</text>
<text transform="translate(54,1115.4) rotate(-90)" font-size="20.1" text-anchor="middle" fill="#111">Energy (eV)</text>
<text x="341.5" y="1093.7" font-size="20" fill="#111"><tspan font-family="Liberation Serif" font-style="italic">Z</tspan><tspan dy="5.5" font-size="15">2</tspan><tspan dy="-5.5"> = 1</tspan></text>
<line x1="344.5" y1="1087.4" x2="351.5" y2="1087.4" stroke="#111" stroke-width="0.9"/>
<text x="17" y="972" font-size="24" font-weight="bold" fill="#000" stroke="#000" stroke-width="1.0">e</text>
<defs><clipPath id="clipf"><rect x="495.5" y="972.5" width="306.0" height="264.0"/></clipPath></defs>
<rect x="495.5" y="1095" width="306.0" height="17.7" fill="#ebebeb"/>
<rect x="495.5" y="998.6" width="306.0" height="6.4" fill="#b3cdf0"/>
<rect x="495.5" y="1179.2" width="306.0" height="6.4" fill="#b3cdf0"/>
<line x1="594.3" y1="972.5" x2="594.3" y2="1236.5" stroke="#c8c8c8" stroke-width="1.2"/>
<line x1="697.7" y1="972.5" x2="697.7" y2="1236.5" stroke="#c8c8c8" stroke-width="1.2"/>
<line x1="495.5" y1="1105" x2="801.5" y2="1105" stroke="#666" stroke-width="1.4" stroke-dasharray="4.6,2.6"/>
<g clip-path="url(#clipf)">
<path d="M495.0,1000.0 C499.2,999.2 511.4,997.8 520.0,995.0 C528.6,992.2 538.9,987.2 546.7,983.3 C554.5,979.4 562.8,974.1 566.7,971.7 C570.6,969.3 569.5,969.5 570.0,969.0" fill="none" stroke="#111" stroke-width="1.9" stroke-linejoin="round"/>
<path d="M638.0,970.0 C638.9,970.5 641.0,971.2 643.3,972.7 C645.6,974.2 649.2,977.5 652.0,979.0 C654.8,980.5 657.3,981.7 660.0,981.7 C662.7,981.7 664.7,980.1 668.0,979.0 C671.3,977.9 675.5,976.0 680.0,975.0 C684.5,974.0 690.5,973.4 695.0,973.0 C699.5,972.6 703.9,972.6 706.7,972.4 C709.5,972.1 711.1,971.6 712.0,971.5" fill="none" stroke="#111" stroke-width="1.9" stroke-linejoin="round"/>
<path d="M770.0,969.0 C770.5,969.6 770.5,969.8 773.3,972.7 C776.1,975.7 782.0,983.4 786.7,986.7 C791.4,990.0 799.2,991.7 801.7,992.7" fill="none" stroke="#111" stroke-width="1.9" stroke-linejoin="round"/>
<path d="M495.0,1091.7 C499.2,1091.5 511.9,1090.9 520.0,1090.6 C528.0,1090.3 535.0,1089.8 543.3,1090.0 C551.6,1090.2 561.7,1090.8 570.0,1091.5 C578.3,1092.2 588.0,1094.1 593.3,1094.3 C598.6,1094.5 598.9,1095.1 601.7,1092.7 C604.5,1090.3 607.0,1084.9 610.0,1080.0 C613.0,1075.1 616.2,1070.0 620.0,1063.3 C623.8,1056.6 628.5,1047.8 633.0,1040.0 C637.5,1032.2 642.9,1022.2 646.7,1016.7 C650.5,1011.2 653.0,1009.1 656.0,1007.0 C659.0,1004.9 662.2,1004.2 665.0,1004.0 C667.8,1003.8 670.0,1005.0 673.0,1006.0 C676.0,1007.0 679.3,1009.0 683.3,1010.0 C687.3,1011.0 693.7,1011.8 697.0,1012.3 C700.3,1012.8 700.8,1012.2 703.3,1013.3 C705.8,1014.4 709.2,1016.8 712.0,1019.0 C714.8,1021.2 715.8,1023.0 720.0,1026.7 C724.2,1030.4 731.5,1036.6 737.0,1041.0 C742.5,1045.4 749.0,1050.1 753.3,1053.3 C757.6,1056.5 759.7,1058.3 763.0,1060.0 C766.3,1061.7 769.1,1063.3 773.3,1063.3 C777.5,1063.3 783.3,1061.1 788.0,1060.0 C792.7,1058.9 799.4,1057.2 801.7,1056.7" fill="none" stroke="#111" stroke-width="1.9" stroke-linejoin="round"/>
<path d="M495.0,1092.7 C500.0,1092.9 515.3,1093.6 525.0,1094.0 C534.7,1094.4 545.0,1094.8 553.3,1095.0 C561.6,1095.2 568.3,1095.2 575.0,1095.3 C581.7,1095.3 588.8,1095.7 593.3,1095.3 C597.8,1094.9 600.3,1093.1 601.7,1092.7" fill="none" stroke="#111" stroke-width="1.5" stroke-linejoin="round"/>
<path d="M495.0,1173.3 C498.5,1171.2 509.1,1164.9 516.0,1161.0 C523.0,1157.1 530.5,1153.5 536.7,1150.0 C542.9,1146.5 547.5,1143.0 553.0,1140.0 C558.5,1137.0 564.7,1134.1 570.0,1131.7 C575.3,1129.3 580.5,1126.9 585.0,1125.5 C589.5,1124.1 593.4,1122.5 596.7,1123.3 C600.0,1124.0 602.2,1127.2 605.0,1130.0 C607.8,1132.8 610.3,1136.7 613.3,1140.0 C616.3,1143.3 619.7,1147.0 623.0,1150.0 C626.3,1153.0 629.6,1156.3 633.3,1158.3 C637.0,1160.3 640.5,1160.9 645.0,1162.0 C649.5,1163.1 654.2,1163.4 660.0,1165.0 C665.8,1166.6 675.0,1169.9 680.0,1171.7 C685.0,1173.5 687.0,1174.9 690.0,1176.0 C693.0,1177.1 695.3,1178.5 698.3,1178.3 C701.3,1178.1 704.4,1176.9 708.0,1175.0 C711.6,1173.1 715.8,1170.2 720.0,1166.7 C724.2,1163.2 728.5,1158.5 733.0,1154.0 C737.5,1149.5 742.5,1144.2 746.7,1140.0 C750.9,1135.8 754.1,1132.3 758.0,1129.0 C761.9,1125.7 765.2,1122.6 770.0,1120.0 C774.8,1117.4 781.4,1114.6 786.7,1113.3 C792.0,1112.0 799.2,1112.5 801.7,1112.3" fill="none" stroke="#111" stroke-width="1.5" stroke-linejoin="round"/>
<path d="M495.0,1174.0 C498.5,1172.2 509.1,1167.0 516.0,1163.4 C523.0,1159.8 530.5,1155.9 536.7,1152.4 C542.9,1148.9 547.5,1145.5 553.0,1142.4 C558.5,1139.4 564.7,1136.7 570.0,1134.1 C575.3,1131.5 580.5,1128.7 585.0,1126.9 C589.5,1125.1 593.4,1122.7 596.7,1123.3 C600.0,1123.9 602.2,1127.5 605.0,1130.7 C607.8,1133.9 610.3,1138.8 613.3,1142.4 C616.3,1146.0 619.7,1149.4 623.0,1152.4 C626.3,1155.5 629.6,1158.7 633.3,1160.7 C637.0,1162.7 640.5,1163.3 645.0,1164.4 C649.5,1165.5 654.2,1165.8 660.0,1167.4 C665.8,1169.0 675.0,1172.5 680.0,1174.1 C685.0,1175.7 687.0,1176.5 690.0,1177.2 C693.0,1177.9 695.3,1178.7 698.3,1178.3 C701.3,1177.9 704.4,1176.9 708.0,1175.0 C711.6,1173.1 715.8,1170.2 720.0,1166.7 C724.2,1163.2 728.5,1158.5 733.0,1154.0 C737.5,1149.5 742.5,1144.2 746.7,1140.0 C750.9,1135.8 754.1,1132.3 758.0,1129.0 C761.9,1125.7 765.2,1122.6 770.0,1120.0 C774.8,1117.4 781.4,1114.6 786.7,1113.3 C792.0,1112.0 799.2,1112.5 801.7,1112.3" fill="none" stroke="#111" stroke-width="1.5" stroke-linejoin="round"/>
<path d="M495.0,1185.0 C498.5,1187.0 509.1,1192.8 516.0,1197.0 C523.0,1201.2 530.5,1206.3 536.7,1210.0 C542.9,1213.7 547.5,1216.2 553.0,1219.0 C558.5,1221.8 565.0,1224.8 570.0,1226.7 C575.0,1228.6 578.8,1229.7 583.0,1230.5 C587.2,1231.3 590.5,1232.0 595.0,1231.7 C599.5,1231.5 604.7,1230.4 610.0,1229.0 C615.3,1227.6 621.7,1225.8 626.7,1223.3 C631.7,1220.8 635.6,1217.3 640.0,1214.0 C644.4,1210.7 649.6,1206.2 653.3,1203.3 C657.0,1200.4 659.2,1198.2 662.0,1196.5 C664.8,1194.8 667.0,1193.5 670.0,1193.3 C673.0,1193.1 677.2,1194.7 680.0,1195.5 C682.8,1196.3 683.7,1197.3 686.7,1198.3 C689.8,1199.3 694.4,1200.8 698.3,1201.7 C702.2,1202.7 706.4,1203.2 710.0,1204.0 C713.6,1204.8 715.5,1205.4 720.0,1206.7 C724.5,1208.0 731.5,1210.3 737.0,1212.0 C742.5,1213.7 747.0,1215.8 753.3,1216.7 C759.6,1217.7 766.9,1217.5 775.0,1217.7 C783.1,1217.9 797.2,1217.7 801.7,1217.7" fill="none" stroke="#111" stroke-width="1.5" stroke-linejoin="round"/>
<path d="M495.0,1185.5 C498.5,1187.8 509.1,1194.9 516.0,1199.4 C523.0,1203.9 530.5,1208.7 536.7,1212.4 C542.9,1216.1 547.5,1218.6 553.0,1221.4 C558.5,1224.2 565.0,1227.4 570.0,1229.1 C575.0,1230.8 578.8,1231.3 583.0,1231.7 C587.2,1232.1 590.5,1232.0 595.0,1231.7 C599.5,1231.4 604.7,1230.7 610.0,1229.7 C615.3,1228.7 621.7,1227.9 626.7,1225.7 C631.7,1223.5 635.6,1219.7 640.0,1216.4 C644.4,1213.1 649.6,1208.6 653.3,1205.7 C657.0,1202.8 659.2,1200.6 662.0,1198.9 C664.8,1197.2 667.0,1195.9 670.0,1195.7 C673.0,1195.5 677.2,1197.3 680.0,1197.9 C682.8,1198.5 683.7,1198.9 686.7,1199.5 C689.8,1200.1 694.4,1201.0 698.3,1201.7 C702.2,1202.5 706.4,1203.2 710.0,1204.0 C713.6,1204.8 715.5,1205.4 720.0,1206.7 C724.5,1208.0 731.5,1210.3 737.0,1212.0 C742.5,1213.7 747.0,1215.8 753.3,1216.7 C759.6,1217.7 766.9,1217.5 775.0,1217.7 C783.1,1217.9 797.2,1217.7 801.7,1217.7" fill="none" stroke="#111" stroke-width="1.5" stroke-linejoin="round"/>
</g>
<rect x="495.5" y="972.5" width="306.0" height="264.0" fill="none" stroke="#000" stroke-width="1.5"/>
<line x1="594.3" y1="1236.5" x2="594.3" y2="1231.5" stroke="#111" stroke-width="1.3"/>
<line x1="697.7" y1="1236.5" x2="697.7" y2="1231.5" stroke="#111" stroke-width="1.3"/>
<text x="487.5" y="979.5" font-size="19.5" text-anchor="end" fill="#111" >0.1</text>
<text x="489.0" y="1112.0" font-size="19.5" text-anchor="end" fill="#111" >0</text>
<text x="487.5" y="1243.5" font-size="19.5" text-anchor="end" fill="#111" >−0.1</text>
<text x="496.5" y="1258.0" font-size="19.5" text-anchor="middle" fill="#111" >Y</text>
<text x="595.3" y="1258.0" font-size="19.5" text-anchor="middle" fill="#111" >Γ</text>
<text x="698.7" y="1258.0" font-size="19.5" text-anchor="middle" fill="#111" >X</text>
<text x="802.5" y="1258.0" font-size="19.5" text-anchor="middle" fill="#111" >R</text>
<text transform="translate(450,1110.8) rotate(-90)" font-size="20.1" text-anchor="middle" fill="#111">Energy (eV)</text>
<text x="733.5" y="1006.7" font-size="20" fill="#111"><tspan font-family="Liberation Serif" font-style="italic">Z</tspan><tspan dy="5.5" font-size="15">2</tspan><tspan dy="-5.5"> = 1</tspan></text>
<line x1="736.5" y1="1000.4000000000001" x2="743.5" y2="1000.4000000000001" stroke="#111" stroke-width="0.9"/>
<text x="733.5" y="1093.3" font-size="20" fill="#111"><tspan font-family="Liberation Serif" font-style="italic">Z</tspan><tspan dy="5.5" font-size="15">2</tspan><tspan dy="-5.5"> = 0</tspan></text>
<line x1="736.5" y1="1087.0" x2="743.5" y2="1087.0" stroke="#111" stroke-width="0.9"/>
<text x="733.5" y="1188.3" font-size="20" fill="#111"><tspan font-family="Liberation Serif" font-style="italic">Z</tspan><tspan dy="5.5" font-size="15">2</tspan><tspan dy="-5.5"> = 1</tspan></text>
<line x1="736.5" y1="1182.0" x2="743.5" y2="1182.0" stroke="#111" stroke-width="0.9"/>
<text x="430" y="978" font-size="24" font-weight="bold" fill="#000" stroke="#000" stroke-width="1.0">f</text>
<defs><clipPath id="clipg"><rect x="869.5" y="972.5" width="320.0" height="264.0"/></clipPath></defs>
<rect x="869.5" y="972.5" width="320.0" height="264.0" fill="#f5f5f5"/>
<g clip-path="url(#clipg)">
<path d="M983.2,1238.0 C984.3,1231.7 987.2,1216.3 990.0,1200.0 C992.8,1183.7 996.7,1156.7 1000.0,1140.0 C1003.3,1123.3 1007.0,1109.7 1010.0,1100.0 C1013.0,1090.3 1015.4,1085.9 1018.0,1082.0 C1020.6,1078.1 1023.0,1076.7 1025.5,1076.7 C1028.0,1076.7 1030.4,1078.1 1033.0,1082.0 C1035.6,1085.9 1038.0,1090.3 1041.0,1100.0 C1044.0,1109.7 1047.8,1124.2 1051.0,1140.0 C1054.2,1155.8 1057.4,1178.7 1060.0,1195.0 C1062.6,1211.3 1065.6,1230.8 1066.7,1238.0Z" fill="#fcb8b8" stroke="#555" stroke-width="0.8" stroke-dasharray="2,1.5"/>
<path d="M850.0,1115.0 C853.2,1117.0 863.7,1122.9 869.5,1127.1 C875.3,1131.3 879.9,1134.5 885.0,1140.0 C890.1,1145.5 895.3,1152.5 900.0,1160.0 C904.7,1167.5 909.3,1176.7 913.0,1185.0 C916.7,1193.3 919.7,1201.2 922.0,1210.0 C924.3,1218.8 926.2,1233.3 927.0,1238.0 L850,1238Z" fill="#c5dcf8" stroke="#555" stroke-width="0.8" stroke-dasharray="2,1.5"/>
<path d="M1110.6,1238.0 C1111.2,1232.5 1112.1,1215.5 1114.0,1205.0 C1115.9,1194.5 1118.5,1185.0 1122.0,1175.0 C1125.5,1165.0 1130.3,1153.5 1135.0,1145.0 C1139.7,1136.5 1144.3,1129.2 1150.0,1124.0 C1155.7,1118.8 1163.8,1115.1 1169.1,1114.1 C1174.4,1113.1 1178.5,1116.1 1182.0,1118.0 C1185.5,1119.9 1187.0,1122.7 1190.0,1125.5 C1193.0,1128.3 1198.3,1133.4 1200.0,1135.0 L1200,1238Z" fill="#c5dcf8" stroke="#555" stroke-width="0.8" stroke-dasharray="2,1.5"/>
</g>
<rect x="869.5" y="972.5" width="320.0" height="264.0" fill="none" stroke="#000" stroke-width="1.5"/>
<text x="1025.1" y="998.7" font-size="20.5" text-anchor="middle" fill="#111" >Metal</text>
<text x="1025.3" y="1049.1" font-size="20.5" text-anchor="middle" fill="#111" >QSH</text>
<line x1="1025" y1="1056.6" x2="1025" y2="1105" stroke="#111" stroke-width="1.2"/>
<text x="883.1" y="1088.1" font-size="20.5" fill="#111" >Correlated</text>
<text x="883.1" y="1112.5" font-size="20.5" fill="#111" >QSH</text>
<line x1="901.6" y1="1123.9" x2="901.6" y2="1180.1" stroke="#111" stroke-width="1.2"/>
<text x="1086.2" y="1093.0" font-size="20.5" fill="#111" >Correlated</text>
<text x="1086.2" y="1118.0" font-size="20.5" fill="#111" >QSH</text>
<polyline points="1113.9,1128.1 1113.9,1153.8 1158.7,1153.8" fill="none" stroke="#111" stroke-width="1.2"/>
<text x="1026.1" y="1263.6" font-size="20.5" text-anchor="middle" fill="#111" >Carrier density</text>
<text transform="translate(842,1107) rotate(-90)" font-size="21.2" text-anchor="middle" fill="#111">Temperature</text>
<text x="830" y="977.6" font-size="24" font-weight="bold" fill="#000" stroke="#000" stroke-width="1.0">g</text>
</svg></body></html>
